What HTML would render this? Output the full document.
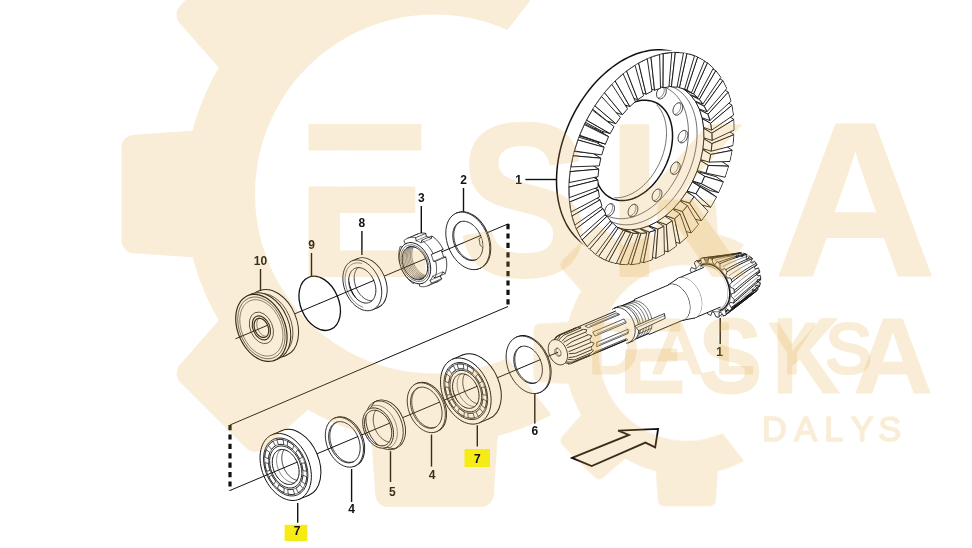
<!DOCTYPE html>
<html><head><meta charset="utf-8"><title>ESKA DALYS</title>
<style>html,body{margin:0;padding:0;background:#fff}svg{display:block}</style></head>
<body><svg width="972" height="548" viewBox="0 0 972 548">
<rect width="972" height="548" fill="#fff"/>
<defs><clipPath id="ecut"><path d="M0 0H1000V600H0Z M300 150.4H346V186.4H300Z" clip-rule="evenodd"/></clipPath><g id="logo" fill="#e1a537" stroke="#e1a537"><path d="M549.24 -26.42 A248.5 248.5 0 1 0 549.24 414.42 L506.96 359.86 A181 181 0 1 1 506.96 28.14 Z" stroke-width="3" stroke-linejoin="round"/><path d="M382.54 409 L388.17 494 L480.83 494 L486.46 409Z" stroke-width="26" stroke-linejoin="round"/><path d="M245.73 309.29 L189.61 373.37 L255.13 438.89 L319.21 382.77Z" stroke-width="26" stroke-linejoin="round"/><path d="M219.5 142.04 L134.5 147.67 L134.5 240.33 L219.5 245.96Z" stroke-width="26" stroke-linejoin="round"/><path d="M319.21 5.23 L255.13 -50.89 L189.61 14.63 L245.73 78.71Z" stroke-width="26" stroke-linejoin="round"/><path d="M486.46 -21 L480.83 -106 L388.17 -106 L382.54 -21Z" stroke-width="26" stroke-linejoin="round"/><g clip-path="url(#ecut)"><text id="eska" y="276" font-family="'Liberation Sans',Arial,sans-serif" font-weight="bold" font-size="219.7" stroke-width="2" stroke-linejoin="round"><tspan x="295.7" textLength="136.8" lengthAdjust="spacingAndGlyphs">E</tspan><tspan x="457.9" textLength="131.2" lengthAdjust="spacingAndGlyphs">S</tspan><tspan x="607.6" textLength="139.6" lengthAdjust="spacingAndGlyphs">K</tspan><tspan x="774.3" textLength="162.2" lengthAdjust="spacingAndGlyphs">A</tspan></text></g><text id="dalys" x="588 653.8 715 768.8 825.2" y="372.9" font-family="'Liberation Sans',Arial,sans-serif" font-size="70" stroke-width="3.2" stroke-linejoin="round">DALYS</text></g></defs>
<g id="drawing" opacity="0.999"><path d="M508 224 L508 307" stroke="#111" stroke-width="3.2" fill="none" stroke-dasharray="5.2 4.2"/><path d="M230 425 L230 491" stroke="#111" stroke-width="3.2" fill="none" stroke-dasharray="5.2 4.2"/><path d="M508 306.5 L230 425" stroke="#111" stroke-width="1" fill="none" /><path d="M508 223.94 L467.8 240.89" fill="none" stroke="#111" stroke-width="1" stroke-linejoin="round" stroke-linecap="round" /><ellipse cx="468.82" cy="240.46" rx="30" ry="20.25" transform="rotate(67.14 468.82 240.46)" fill="#fff" stroke="#111" stroke-width="0.9" /><path d="M479.45 268.53 L480.47 268.1 L457.17 212.81 L456.15 213.24Z" fill="#fff" stroke="none"/><path d="M479.45 268.53 L480.47 268.1" fill="none" stroke="#111" stroke-width="0.9" stroke-linejoin="round" stroke-linecap="round" /><path d="M456.15 213.24 L457.17 212.81" fill="none" stroke="#111" stroke-width="0.9" stroke-linejoin="round" stroke-linecap="round" /><path d="M479.45 268.53 L481.06 267.73 L482.56 266.71 L483.94 265.5 L485.2 264.09 L486.32 262.5 L487.3 260.74 L488.12 258.83 L488.79 256.77 L489.29 254.59 L489.62 252.31 L489.78 249.93 L489.77 247.49 L489.59 244.99 L489.24 242.46 L488.72 239.91 L488.03 237.38 L487.19 234.87 L486.2 232.41 L485.06 230.02 L483.79 227.71 L482.39 225.5 L480.88 223.42 L479.26 221.47 L477.56 219.67 L475.78 218.04 L473.93 216.59 L472.04 215.33 L470.12 214.27 L468.17 213.41 L466.23 212.77 L464.3 212.35 L462.39 212.16 L460.53 212.19 L458.72 212.44 L456.98 212.92 L455.33 213.62 L453.78 214.53 L452.34 215.64 L451.01 216.95 L449.82 218.45 L448.77 220.13 L447.87 221.97 L447.13 223.96 L446.54 226.07 L446.12 228.31 L445.88 230.64 L445.8 233.06 L445.9 235.53 L446.16 238.05 L446.6 240.59 L447.2 243.13 L447.97 245.65 L448.89 248.14 L449.95 250.57 L451.16 252.92 L452.5 255.18 L453.95 257.33 L455.52 259.35 L457.18 261.22 L458.92 262.94 L460.74 264.48 L462.61 265.84 L464.52 267 L466.45 267.96 L468.4 268.71 L470.34 269.24 L472.26 269.54 L474.15 269.63 L475.98 269.48 L477.76 269.12 L479.45 268.53Z M475.76 259.78 L476.86 259.23 L477.88 258.54 L478.83 257.7 L479.69 256.74 L480.46 255.66 L481.12 254.45 L481.69 253.15 L482.14 251.74 L482.48 250.25 L482.71 248.69 L482.82 247.07 L482.81 245.4 L482.69 243.69 L482.45 241.96 L482.09 240.22 L481.63 238.49 L481.05 236.78 L480.37 235.1 L479.59 233.46 L478.72 231.88 L477.77 230.37 L476.74 228.95 L475.63 227.62 L474.47 226.39 L473.25 225.28 L471.99 224.28 L470.7 223.42 L469.38 222.7 L468.06 222.11 L466.73 221.68 L465.41 221.39 L464.1 221.26 L462.83 221.28 L461.6 221.45 L460.41 221.78 L459.28 222.25 L458.22 222.87 L457.23 223.64 L456.33 224.53 L455.52 225.56 L454.8 226.7 L454.18 227.96 L453.67 229.32 L453.27 230.77 L452.99 232.29 L452.82 233.89 L452.77 235.54 L452.83 237.23 L453.02 238.95 L453.31 240.68 L453.73 242.42 L454.25 244.14 L454.88 245.84 L455.61 247.5 L456.43 249.11 L457.34 250.65 L458.34 252.12 L459.41 253.5 L460.54 254.78 L461.74 255.96 L462.97 257.01 L464.25 257.94 L465.56 258.73 L466.88 259.39 L468.21 259.9 L469.54 260.26 L470.85 260.47 L472.14 260.53 L473.39 260.43 L474.6 260.18 L475.76 259.78Z" fill="#fff" fill-rule="evenodd" stroke="#111" stroke-width="0.9"/><path d="M460.35 221.8 L459.41 222.33 L458.52 222.98 L457.69 223.74 L456.93 224.6 L456.25 225.56 L455.64 226.61 L455.11 227.74 L454.67 228.96 L454.32 230.24 L454.05 231.59 L453.88 232.99 L453.79 234.44 L453.8 235.92 L453.91 237.43 L454.1 238.96 L454.39 240.5 L454.76 242.04 L455.22 243.57 L455.77 245.09 L456.39 246.57 L457.09 248.01 L457.87 249.41 L458.71 250.75 L459.61 252.03 L460.57 253.24 L461.58 254.37 L462.64 255.42 L463.73 256.37 L464.86 257.22 L466.01 257.97 L467.17 258.62 L468.35 259.15 L469.53 259.56 L470.7 259.86 L471.87 260.04 L473.01 260.1 L474.13 260.03 L475.22 259.85 L476.27 259.55" fill="none" stroke="#111" stroke-width="0.8" stroke-linejoin="round" stroke-linecap="round" /><path d="M482.81 247.32 L479.89 244.74 L479.82 243.55 L479.69 242.35 L479.48 241.14 L479.2 239.93 L478.86 238.72 L481.2 237.18" fill="#fff" stroke="#111" stroke-width="0.8"/><path d="M480.55 235.51 L414.9 263.18" fill="none" stroke="#111" stroke-width="1" stroke-linejoin="round" stroke-linecap="round" /><path d="M437.82 281.52 L438.24 281.34 L438.65 281.13 L439.05 280.92 L439.44 280.68 L439.83 280.43 L440.21 280.17 L440.58 279.89 L440.94 279.59 L441.29 279.28 L441.63 278.96 L440.21 276.03 L440.49 275.72 L440.77 275.4 L441.03 275.06 L441.29 274.72 L441.54 274.36 L441.78 273.99 L442 273.61 L442.22 273.22 L442.43 272.82 L442.63 272.41 L442.82 271.98 L445.15 273.51 L445.34 273 L445.52 272.49 L445.69 271.97 L445.84 271.43 L445.99 270.89 L446.12 270.34 L446.23 269.77 L446.34 269.2 L446.43 268.63 L446.51 268.04 L446.58 267.45 L446.63 266.85 L446.67 266.25 L446.7 265.64 L446.72 265.02 L446.72 264.4 L446.71 263.78 L446.69 263.15 L446.65 262.51 L446.6 261.88 L446.54 261.24 L446.46 260.59 L446.37 259.95 L446.27 259.31 L446.16 258.66 L446.03 258.01 L445.9 257.37 L443.52 256.85 L443.38 256.28 L443.22 255.72 L443.06 255.15 L442.88 254.59 L442.7 254.03 L442.5 253.47 L442.3 252.92 L442.08 252.37 L441.86 251.82 L441.62 251.28 L441.38 250.74 L443.01 249.14 L442.71 248.53 L442.4 247.94 L442.08 247.35 L441.75 246.76 L441.41 246.19 L441.07 245.62 L440.71 245.06 L440.34 244.51 L439.97 243.97 L439.58 243.43 L439.19 242.91 L438.79 242.4 L438.39 241.9 L437.97 241.41 L437.55 240.93 L437.12 240.46 L436.69 240 L436.25 239.56 L435.8 239.12 L435.35 238.71 L434.89 238.3 L434.43 237.91 L433.97 237.53 L433.5 237.16 L433.02 236.81 L432.54 236.47 L432.06 236.15 L431.11 238.56 L430.68 238.3 L430.26 238.06 L429.83 237.83 L429.39 237.62 L428.96 237.41 L428.53 237.23 L428.1 237.05 L427.66 236.89 L427.23 236.75 L426.79 236.62 L426.36 236.5 L425.66 233.38 L425.17 233.28 L424.68 233.19 L424.2 233.13 L423.71 233.08 L423.23 233.04 L422.75 233.03 L422.27 233.03 L421.8 233.05 L421.34 233.08 L420.87 233.14 L420.41 233.21 L419.96 233.29 L419.51 233.39 L419.07 233.51 L418.63 233.65 L418.2 233.8 L417.78 233.97 L417.36 234.16 L416.95 234.36 L416.55 234.58 L416.16 234.81 L415.77 235.06 L415.39 235.32 L415.02 235.6 L414.66 235.9 L414.31 236.21 L413.97 236.53 L415.39 239.46 L415.11 239.77 L414.83 240.09 L414.57 240.43 L414.31 240.77 L414.06 241.13 L413.83 241.5 L413.6 241.88 L413.38 242.27 L413.17 242.67 L412.97 243.09 L412.78 243.51 L410.45 241.98 L410.26 242.49 L410.08 243 L409.91 243.53 L409.76 244.06 L409.62 244.6 L409.49 245.16 L409.37 245.72 L409.26 246.29 L409.17 246.86 L409.09 247.45 L409.02 248.04 L408.97 248.64 L408.93 249.24 L408.9 249.85 L408.88 250.47 L408.88 251.09 L408.89 251.72 L408.92 252.35 L408.95 252.98 L409 253.62 L409.06 254.26 L409.14 254.9 L409.23 255.54 L409.33 256.19 L409.44 256.83 L409.57 257.48 L409.71 258.13 L412.08 258.65 L412.23 259.21 L412.38 259.78 L412.54 260.34 L412.72 260.9 L412.9 261.46 L413.1 262.02 L413.3 262.57 L413.52 263.12 L413.74 263.67 L413.98 264.21 L414.22 264.75 L412.59 266.35 L412.89 266.96 L413.2 267.56 L413.52 268.15 L413.85 268.73 L414.19 269.31 L414.54 269.87 L414.89 270.43 L415.26 270.98 L415.64 271.53 L416.02 272.06 L416.41 272.58 L416.81 273.09 L417.22 273.6 L417.63 274.09 L418.05 274.57 L418.48 275.03 L418.91 275.49 L419.35 275.94 L419.8 276.37 L420.25 276.79 L420.71 277.19 L421.17 277.59 L421.64 277.96 L422.11 278.33 L422.58 278.68 L423.06 279.02 L423.54 279.34 L424.49 276.93 L424.92 277.19 L425.35 277.43 L425.78 277.66 L426.21 277.88 L426.64 278.08 L427.07 278.26 L427.51 278.44 L427.94 278.6 L428.37 278.74 L428.81 278.88 L429.24 278.99 L429.94 282.12 L430.43 282.22 L430.92 282.3 L431.41 282.37 L431.89 282.41 L432.37 282.45 L432.85 282.46 L433.33 282.46 L433.8 282.44 L434.27 282.41 L434.73 282.35 L435.19 282.29 L435.64 282.2 L436.09 282.1 L436.53 281.98 L436.97 281.84 L437.4 281.69Z" fill="#fff" stroke="#111" stroke-width="0.9" stroke-linejoin="round"/><path d="M427.69 285.79 L437.82 281.52 L417.78 233.97 L407.64 238.24Z" fill="#fff" stroke="none"/><path d="M427.69 285.79 L437.82 281.52" fill="none" stroke="#111" stroke-width="0.9" stroke-linejoin="round" stroke-linecap="round" /><path d="M407.64 238.24 L417.78 233.97" fill="none" stroke="#111" stroke-width="0.9" stroke-linejoin="round" stroke-linecap="round" /><path d="M427.69 285.79 L428.1 285.61 L428.51 285.41 L428.91 285.19 L429.31 284.96 L429.69 284.71 L430.07 284.44 L430.44 284.16 L430.8 283.87 L431.15 283.56 L431.5 283.23 L430.07 280.3 L430.36 279.99 L430.63 279.67 L430.9 279.34 L431.15 278.99 L431.4 278.63 L431.64 278.26 L431.87 277.88 L432.09 277.49 L432.3 277.09 L432.49 276.68 L432.68 276.26 L435.01 277.78 L435.2 277.28 L435.38 276.76 L435.55 276.24 L435.71 275.7 L435.85 275.16 L435.98 274.61 L436.1 274.05 L436.2 273.48 L436.3 272.9 L436.38 272.32 L436.44 271.72 L436.5 271.13 L436.54 270.52 L436.57 269.91 L436.58 269.29 L436.58 268.67 L436.57 268.05 L436.55 267.42 L436.51 266.78 L436.46 266.15 L436.4 265.51 L436.33 264.87 L436.24 264.22 L436.14 263.58 L436.02 262.93 L435.9 262.29 L435.76 261.64 L433.38 261.12 L433.24 260.55 L433.09 259.99 L432.92 259.42 L432.75 258.86 L432.56 258.3 L432.37 257.75 L432.16 257.19 L431.95 256.64 L431.72 256.09 L431.49 255.55 L431.24 255.01 L432.88 253.41 L432.58 252.81 L432.27 252.21 L431.95 251.62 L431.62 251.04 L431.28 250.46 L430.93 249.89 L430.57 249.33 L430.21 248.78 L429.83 248.24 L429.45 247.71 L429.06 247.18 L428.66 246.67 L428.25 246.17 L427.83 245.68 L427.41 245.2 L426.99 244.73 L426.55 244.27 L426.11 243.83 L425.67 243.4 L425.21 242.98 L424.76 242.57 L424.3 242.18 L423.83 241.8 L423.36 241.43 L422.88 241.08 L422.41 240.75 L421.93 240.42 L420.97 242.83 L420.55 242.58 L420.12 242.33 L419.69 242.11 L419.26 241.89 L418.83 241.69 L418.39 241.5 L417.96 241.33 L417.52 241.17 L417.09 241.02 L416.66 240.89 L416.23 240.77 L415.53 237.65 L415.04 237.55 L414.55 237.47 L414.06 237.4 L413.58 237.35 L413.09 237.32 L412.61 237.3 L412.14 237.3 L411.67 237.32 L411.2 237.36 L410.74 237.41 L410.28 237.48 L409.82 237.56 L409.38 237.67 L408.93 237.79 L408.5 237.92 L408.07 238.08 L407.64 238.24 L407.23 238.43 L406.82 238.63 L406.42 238.85 L406.02 239.08 L405.63 239.33 L405.26 239.59 L404.89 239.87 L404.53 240.17 L404.17 240.48 L403.83 240.8 L405.26 243.73 L404.97 244.04 L404.7 244.37 L404.43 244.7 L404.18 245.05 L403.93 245.4 L403.69 245.77 L403.46 246.15 L403.24 246.54 L403.03 246.95 L402.84 247.36 L402.65 247.78 L400.32 246.26 L400.12 246.76 L399.95 247.27 L399.78 247.8 L399.62 248.33 L399.48 248.88 L399.35 249.43 L399.23 249.99 L399.13 250.56 L399.03 251.14 L398.95 251.72 L398.89 252.31 L398.83 252.91 L398.79 253.52 L398.76 254.13 L398.75 254.74 L398.75 255.36 L398.76 255.99 L398.78 256.62 L398.82 257.25 L398.87 257.89 L398.93 258.53 L399 259.17 L399.09 259.81 L399.19 260.46 L399.31 261.1 L399.43 261.75 L399.57 262.4 L401.95 262.92 L402.09 263.48 L402.24 264.05 L402.41 264.61 L402.58 265.17 L402.77 265.73 L402.96 266.29 L403.17 266.85 L403.38 267.4 L403.61 267.94 L403.84 268.49 L404.09 269.03 L402.45 270.63 L402.75 271.23 L403.06 271.83 L403.38 272.42 L403.71 273 L404.05 273.58 L404.4 274.15 L404.76 274.71 L405.12 275.26 L405.5 275.8 L405.88 276.33 L406.27 276.85 L406.67 277.37 L407.08 277.87 L407.49 278.36 L407.92 278.84 L408.34 279.31 L408.78 279.76 L409.22 280.21 L409.66 280.64 L410.12 281.06 L410.57 281.46 L411.03 281.86 L411.5 282.24 L411.97 282.6 L412.44 282.95 L412.92 283.29 L413.4 283.61 L414.36 281.2 L414.78 281.46 L415.21 281.7 L415.64 281.93 L416.07 282.15 L416.5 282.35 L416.94 282.54 L417.37 282.71 L417.8 282.87 L418.24 283.02 L418.67 283.15 L419.1 283.26 L419.8 286.39 L420.29 286.49 L420.78 286.57 L421.27 286.64 L421.75 286.69 L422.24 286.72 L422.71 286.73 L423.19 286.73 L423.66 286.71 L424.13 286.68 L424.59 286.63 L425.05 286.56 L425.5 286.47 L425.95 286.37 L426.4 286.25 L426.83 286.11 L427.26 285.96Z" fill="#fff" stroke="#111" stroke-width="0.8" stroke-linejoin="round"/><path d="M431.72 283.01 L441.86 278.73" fill="none" stroke="#111" stroke-width="0.7" stroke-linejoin="round" stroke-linecap="round" /><path d="M429.98 280.4 L440.11 276.13" fill="none" stroke="#111" stroke-width="0.5" stroke-linejoin="round" stroke-linecap="round" /><path d="M434.95 277.95 L445.08 273.67" fill="none" stroke="#111" stroke-width="0.7" stroke-linejoin="round" stroke-linecap="round" /><path d="M432.8 275.97 L442.94 271.7" fill="none" stroke="#111" stroke-width="0.5" stroke-linejoin="round" stroke-linecap="round" /><path d="M435.66 261.21 L445.8 256.93" fill="none" stroke="#111" stroke-width="0.7" stroke-linejoin="round" stroke-linecap="round" /><path d="M433.43 261.31 L443.56 257.03" fill="none" stroke="#111" stroke-width="0.5" stroke-linejoin="round" stroke-linecap="round" /><path d="M432.97 253.61 L443.11 249.34" fill="none" stroke="#111" stroke-width="0.7" stroke-linejoin="round" stroke-linecap="round" /><path d="M431.08 254.65 L441.21 250.38" fill="none" stroke="#111" stroke-width="0.5" stroke-linejoin="round" stroke-linecap="round" /><path d="M421.6 240.22 L431.74 235.95" fill="none" stroke="#111" stroke-width="0.7" stroke-linejoin="round" stroke-linecap="round" /><path d="M421.12 242.92 L431.25 238.65" fill="none" stroke="#111" stroke-width="0.5" stroke-linejoin="round" stroke-linecap="round" /><path d="M415.69 237.68 L425.83 233.41" fill="none" stroke="#111" stroke-width="0.7" stroke-linejoin="round" stroke-linecap="round" /><path d="M415.94 240.7 L426.07 236.43" fill="none" stroke="#111" stroke-width="0.5" stroke-linejoin="round" stroke-linecap="round" /><path d="M423.25 283 L424.4 282.42 L425.47 281.69 L426.47 280.82 L427.37 279.81 L428.17 278.67 L428.87 277.41 L429.46 276.04 L429.94 274.57 L430.3 273.01 L430.54 271.37 L430.65 269.67 L430.65 267.91 L430.52 266.12 L430.26 264.31 L429.89 262.49 L429.4 260.67 L428.8 258.87 L428.09 257.11 L427.27 255.39 L426.36 253.74 L425.35 252.16 L424.27 250.66 L423.11 249.27 L421.89 247.98 L420.62 246.81 L419.3 245.77 L417.94 244.87 L416.56 244.11 L415.17 243.49 L413.77 243.04 L412.39 242.74 L411.02 242.6 L409.69 242.62 L408.39 242.8 L407.15 243.14 L405.97 243.64 L404.85 244.29 L403.82 245.09 L402.87 246.03 L402.02 247.11 L401.26 248.31 L400.62 249.63 L400.08 251.05 L399.67 252.57 L399.37 254.17 L399.19 255.84 L399.13 257.57 L399.2 259.35 L399.39 261.15 L399.71 262.97 L400.14 264.79 L400.69 266.6 L401.35 268.38 L402.11 270.12 L402.98 271.81 L403.93 273.43 L404.98 274.97 L406.1 276.41 L407.29 277.76 L408.54 278.99 L409.84 280.09 L411.18 281.07 L412.55 281.9 L413.93 282.59 L415.33 283.12 L416.72 283.5 L418.1 283.72 L419.45 283.78 L420.77 283.68 L422.04 283.42 L423.25 283Z M421.62 279.13 L422.54 278.66 L423.41 278.08 L424.21 277.38 L424.93 276.56 L425.58 275.65 L426.14 274.63 L426.62 273.53 L427 272.34 L427.29 271.09 L427.48 269.77 L427.58 268.4 L427.57 266.99 L427.47 265.55 L427.26 264.09 L426.96 262.62 L426.57 261.16 L426.08 259.72 L425.51 258.3 L424.85 256.92 L424.12 255.58 L423.31 254.31 L422.44 253.11 L421.51 251.99 L420.53 250.95 L419.5 250.01 L418.44 249.17 L417.35 248.44 L416.24 247.83 L415.12 247.34 L413.99 246.97 L412.88 246.73 L411.78 246.62 L410.71 246.64 L409.66 246.78 L408.66 247.06 L407.71 247.46 L406.82 247.98 L405.98 248.63 L405.22 249.38 L404.53 250.25 L403.93 251.21 L403.41 252.27 L402.98 253.42 L402.64 254.64 L402.4 255.93 L402.26 257.28 L402.21 258.67 L402.27 260.1 L402.42 261.55 L402.68 263.01 L403.02 264.48 L403.46 265.93 L403.99 267.37 L404.61 268.77 L405.3 270.12 L406.08 271.43 L406.92 272.67 L407.82 273.83 L408.78 274.91 L409.78 275.9 L410.83 276.79 L411.91 277.57 L413.01 278.24 L414.12 278.8 L415.25 279.23 L416.36 279.53 L417.47 279.71 L418.56 279.76 L419.62 279.67 L420.64 279.46 L421.62 279.13Z" fill="#fff" fill-rule="evenodd" stroke="#111" stroke-width="1"/><ellipse cx="414.9" cy="263.18" rx="19.3" ry="13.03" transform="rotate(67.14 414.9 263.18)" fill="none" stroke="#111" stroke-width="0.5" /><path d="M408.87 246.99 L408.1 247.46 L407.37 248.03 L406.7 248.68 L406.09 249.41 L405.53 250.23 L405.04 251.11 L404.62 252.07 L404.26 253.09 L403.98 254.17 L403.77 255.29 L403.64 256.46 L403.58 257.67 L403.59 258.91 L403.69 260.17 L403.85 261.44 L404.09 262.72 L404.41 264 L404.79 265.27 L405.25 266.53 L405.77 267.76 L406.35 268.96 L406.99 270.12 L407.69 271.24 L408.43 272.31 L409.23 273.32 L410.07 274.26 L410.94 275.14 L411.84 275.94 L412.78 276.66 L413.73 277.3 L414.7 277.85 L415.67 278.31 L416.65 278.67 L417.63 278.94 L418.6 279.11 L419.56 279.18 L420.49 279.16 L421.41 279.03 L422.29 278.81" fill="none" stroke="#111" stroke-width="0.5" stroke-linejoin="round" stroke-linecap="round" /><path d="M409.59 246.8 L408.89 247.32 L408.23 247.92 L407.63 248.61 L407.08 249.36 L406.58 250.19 L406.15 251.08 L405.78 252.03 L405.48 253.03 L405.24 254.09 L405.07 255.18 L404.97 256.32 L404.93 257.49 L404.97 258.68 L405.08 259.89 L405.25 261.11 L405.5 262.34 L405.81 263.56 L406.18 264.78 L406.62 265.98 L407.12 267.16 L407.67 268.31 L408.28 269.43 L408.94 270.51 L409.65 271.54 L410.4 272.52 L411.19 273.44 L412.02 274.3 L412.88 275.09 L413.76 275.81 L414.67 276.45 L415.59 277.02 L416.52 277.5 L417.46 277.9 L418.4 278.21 L419.33 278.44 L420.26 278.57 L421.17 278.61 L422.06 278.56 L422.93 278.42" fill="none" stroke="#111" stroke-width="0.5" stroke-linejoin="round" stroke-linecap="round" /><path d="M410.34 246.67 L409.71 247.24 L409.12 247.87 L408.58 248.58 L408.09 249.35 L407.66 250.18 L407.28 251.06 L406.96 252 L406.71 252.99 L406.51 254.02 L406.38 255.08 L406.3 256.18 L406.3 257.31 L406.35 258.45 L406.47 259.61 L406.66 260.78 L406.9 261.95 L407.2 263.12 L407.57 264.29 L407.99 265.43 L408.46 266.56 L408.99 267.66 L409.57 268.73 L410.19 269.77 L410.86 270.76 L411.57 271.71 L412.32 272.61 L413.1 273.45 L413.91 274.23 L414.75 274.94 L415.6 275.59 L416.48 276.17 L417.36 276.67 L418.25 277.1 L419.15 277.45 L420.05 277.72 L420.94 277.91 L421.82 278.01 L422.69 278.04 L423.54 277.98" fill="none" stroke="#111" stroke-width="0.5" stroke-linejoin="round" stroke-linecap="round" /><path d="M411.12 246.61 L410.55 247.21 L410.03 247.87 L409.56 248.6 L409.13 249.37 L408.75 250.2 L408.43 251.08 L408.16 252 L407.95 252.97 L407.8 253.97 L407.7 255 L407.65 256.05 L407.67 257.13 L407.74 258.23 L407.87 259.34 L408.06 260.45 L408.31 261.57 L408.6 262.69 L408.95 263.79 L409.36 264.89 L409.81 265.96 L410.31 267.01 L410.86 268.04 L411.45 269.03 L412.08 269.98 L412.75 270.9 L413.45 271.77 L414.18 272.58 L414.94 273.35 L415.73 274.06 L416.54 274.71 L417.36 275.29 L418.2 275.81 L419.05 276.26 L419.9 276.65 L420.76 276.96 L421.61 277.2 L422.46 277.36 L423.3 277.45 L424.12 277.46" fill="none" stroke="#111" stroke-width="0.5" stroke-linejoin="round" stroke-linecap="round" /><path d="M411.92 246.63 L411.43 247.25 L410.97 247.93 L410.56 248.66 L410.19 249.44 L409.87 250.26 L409.6 251.13 L409.38 252.03 L409.21 252.97 L409.1 253.93 L409.03 254.92 L409.01 255.94 L409.05 256.97 L409.14 258.02 L409.28 259.07 L409.47 260.13 L409.71 261.19 L410 262.25 L410.34 263.3 L410.73 264.34 L411.16 265.36 L411.63 266.36 L412.15 267.34 L412.7 268.28 L413.29 269.2 L413.92 270.08 L414.58 270.91 L415.26 271.71 L415.98 272.46 L416.71 273.15 L417.47 273.8 L418.24 274.39 L419.03 274.92 L419.83 275.39 L420.64 275.8 L421.45 276.15 L422.26 276.43 L423.07 276.65 L423.88 276.8 L424.67 276.88" fill="none" stroke="#111" stroke-width="0.5" stroke-linejoin="round" stroke-linecap="round" /><path d="M412.76 246.71 L412.33 247.36 L411.94 248.05 L411.59 248.78 L411.28 249.55 L411.02 250.36 L410.8 251.21 L410.62 252.08 L410.49 252.99 L410.41 253.92 L410.37 254.87 L410.38 255.84 L410.44 256.82 L410.54 257.81 L410.69 258.81 L410.89 259.82 L411.12 260.82 L411.41 261.82 L411.73 262.81 L412.1 263.8 L412.51 264.76 L412.95 265.71 L413.44 266.63 L413.95 267.54 L414.51 268.41 L415.09 269.25 L415.7 270.05 L416.34 270.82 L417.01 271.55 L417.69 272.23 L418.4 272.87 L419.12 273.46 L419.86 274 L420.61 274.48 L421.37 274.91 L422.13 275.29 L422.9 275.61 L423.67 275.87 L424.44 276.07 L425.2 276.22" fill="none" stroke="#111" stroke-width="0.5" stroke-linejoin="round" stroke-linecap="round" /><path d="M413.63 246.88 L413.27 247.53 L412.94 248.23 L412.65 248.95 L412.4 249.71 L412.19 250.51 L412.02 251.33 L411.88 252.17 L411.79 253.04 L411.74 253.93 L411.73 254.83 L411.77 255.75 L411.84 256.68 L411.95 257.62 L412.11 258.56 L412.3 259.51 L412.54 260.45 L412.81 261.39 L413.12 262.33 L413.47 263.25 L413.85 264.16 L414.27 265.05 L414.72 265.93 L415.2 266.78 L415.72 267.61 L416.26 268.41 L416.82 269.18 L417.42 269.91 L418.03 270.62 L418.67 271.28 L419.32 271.91 L419.99 272.49 L420.68 273.03 L421.37 273.53 L422.08 273.98 L422.8 274.38 L423.52 274.73 L424.24 275.03 L424.96 275.28 L425.69 275.48" fill="none" stroke="#111" stroke-width="0.5" stroke-linejoin="round" stroke-linecap="round" /><path d="M425.66 258.65 L362.3 285.35" fill="none" stroke="#111" stroke-width="1" stroke-linejoin="round" stroke-linecap="round" /><ellipse cx="367.74" cy="283.06" rx="26.5" ry="17.89" transform="rotate(67.14 367.74 283.06)" fill="#fff" stroke="#111" stroke-width="0.9" /><path d="M372.59 309.77 L378.03 307.48 L357.45 258.64 L352.01 260.94Z" fill="#fff" stroke="none"/><path d="M372.59 309.77 L378.03 307.48" fill="none" stroke="#111" stroke-width="0.9" stroke-linejoin="round" stroke-linecap="round" /><path d="M352.01 260.94 L357.45 258.64" fill="none" stroke="#111" stroke-width="0.9" stroke-linejoin="round" stroke-linecap="round" /><path d="M372.59 309.77 L374.01 309.06 L375.33 308.17 L376.56 307.1 L377.67 305.85 L378.66 304.45 L379.52 302.89 L380.25 301.2 L380.84 299.39 L381.28 297.46 L381.57 295.44 L381.72 293.34 L381.71 291.18 L381.55 288.98 L381.24 286.74 L380.78 284.5 L380.17 282.26 L379.43 280.04 L378.55 277.87 L377.55 275.75 L376.42 273.71 L375.19 271.77 L373.85 269.92 L372.42 268.2 L370.92 266.61 L369.35 265.17 L367.72 263.89 L366.05 262.78 L364.35 261.84 L362.63 261.09 L360.91 260.52 L359.2 260.15 L357.52 259.98 L355.88 260.01 L354.28 260.23 L352.75 260.65 L351.29 261.27 L349.92 262.07 L348.64 263.05 L347.47 264.21 L346.42 265.54 L345.49 267.02 L344.7 268.64 L344.04 270.4 L343.52 272.27 L343.15 274.25 L342.93 276.31 L342.87 278.44 L342.95 280.62 L343.19 282.85 L343.57 285.09 L344.11 287.33 L344.78 289.56 L345.59 291.76 L346.54 293.91 L347.6 295.99 L348.78 297.98 L350.07 299.88 L351.45 301.66 L352.92 303.32 L354.46 304.83 L356.06 306.2 L357.71 307.4 L359.4 308.42 L361.11 309.27 L362.83 309.93 L364.54 310.4 L366.24 310.67 L367.91 310.74 L369.53 310.62 L371.1 310.29 L372.59 309.77Z M369.49 302.4 L370.47 301.91 L371.4 301.28 L372.25 300.53 L373.03 299.66 L373.72 298.68 L374.32 297.6 L374.83 296.42 L375.24 295.15 L375.55 293.81 L375.76 292.4 L375.86 290.93 L375.85 289.42 L375.74 287.88 L375.52 286.32 L375.2 284.76 L374.78 283.19 L374.26 281.65 L373.65 280.13 L372.94 278.65 L372.16 277.23 L371.3 275.87 L370.36 274.58 L369.37 273.38 L368.32 272.27 L367.22 271.27 L366.08 270.37 L364.92 269.59 L363.73 268.94 L362.53 268.41 L361.33 268.02 L360.14 267.76 L358.96 267.64 L357.81 267.66 L356.7 267.82 L355.63 268.11 L354.61 268.54 L353.65 269.1 L352.76 269.79 L351.95 270.6 L351.21 271.52 L350.57 272.56 L350.01 273.69 L349.55 274.91 L349.19 276.22 L348.93 277.6 L348.78 279.04 L348.73 280.53 L348.79 282.05 L348.96 283.6 L349.23 285.17 L349.6 286.74 L350.07 288.29 L350.64 289.83 L351.29 291.32 L352.04 292.78 L352.86 294.17 L353.76 295.49 L354.73 296.74 L355.75 297.9 L356.83 298.95 L357.95 299.9 L359.1 300.74 L360.28 301.46 L361.47 302.05 L362.67 302.51 L363.87 302.84 L365.05 303.03 L366.21 303.08 L367.35 302.99 L368.44 302.76 L369.49 302.4Z" fill="#fff" fill-rule="evenodd" stroke="#111" stroke-width="0.9"/><path d="M358.04 267.64 L357.41 268.28 L356.84 268.98 L356.31 269.75 L355.84 270.58 L355.42 271.46 L355.06 272.4 L354.76 273.4 L354.52 274.43 L354.34 275.51 L354.23 276.62 L354.18 277.76 L354.19 278.93 L354.26 280.12 L354.4 281.32 L354.6 282.53 L354.86 283.74 L355.18 284.94 L355.56 286.14 L355.99 287.33 L356.48 288.49 L357.03 289.63 L357.62 290.74 L358.26 291.81 L358.95 292.84 L359.67 293.83 L360.44 294.77 L361.23 295.65 L362.06 296.47 L362.91 297.23 L363.79 297.92 L364.69 298.55 L365.6 299.1 L366.52 299.58 L367.44 299.98 L368.37 300.3 L369.29 300.54 L370.21 300.7 L371.11 300.78 L372 300.77" fill="none" stroke="#111" stroke-width="0.8" stroke-linejoin="round" stroke-linecap="round" /><path d="M361.7 263.52 L360.32 263.15 L358.95 262.92 L357.6 262.84 L356.28 262.9 L355 263.11 L353.77 263.47 L352.59 263.97 L351.48 264.6 L350.43 265.37 L349.47 266.27 L348.58 267.29 L347.79 268.43 L347.09 269.68 L346.48 271.03 L345.99 272.48 L345.59 274 L345.31 275.61 L345.13 277.27 L345.07 278.99 L345.12 280.75 L345.27 282.53 L345.54 284.34 L345.92 286.15 L346.41 287.96 L347 289.75 L347.68 291.52 L348.46 293.24 L349.34 294.91 L350.29 296.52 L351.33 298.06 L352.43 299.51 L353.6 300.87 L354.82 302.14 L356.1 303.29 L357.41 304.33 L358.76 305.24 L360.13 306.03 L361.51 306.68 L362.9 307.19" fill="none" stroke="#111" stroke-width="0.5" stroke-linejoin="round" stroke-linecap="round" /><path d="M373.81 280.5 L319.7 303.31" fill="none" stroke="#111" stroke-width="1" stroke-linejoin="round" stroke-linecap="round" /><ellipse cx="319.7" cy="303.31" rx="28.3" ry="19.1" transform="rotate(67.14 319.7 303.31)" fill="none" stroke="#111" stroke-width="1.3" /><path d="M319.7 303.31 L261.4 327.88" fill="none" stroke="#111" stroke-width="1" stroke-linejoin="round" stroke-linecap="round" /><ellipse cx="272.92" cy="323.03" rx="35" ry="23.62" transform="rotate(67.14 272.92 323.03)" fill="#fff" stroke="#111" stroke-width="1" /><path d="M282.83 356.83 L286.51 355.28 L259.32 290.78 L255.64 292.33Z" fill="#fff" stroke="none"/><path d="M282.83 356.83 L286.51 355.28" fill="none" stroke="#111" stroke-width="1" stroke-linejoin="round" stroke-linecap="round" /><path d="M255.64 292.33 L259.32 290.78" fill="none" stroke="#111" stroke-width="1" stroke-linejoin="round" stroke-linecap="round" /><ellipse cx="269.23" cy="324.58" rx="32.3" ry="21.8" transform="rotate(67.14 269.23 324.58)" fill="#fff" stroke="#111" stroke-width="0.7" /><path d="M277.63 356.09 L281.78 354.35 L256.69 294.82 L252.54 296.57Z" fill="#fff" stroke="none"/><path d="M277.63 356.09 L281.78 354.35" fill="none" stroke="#111" stroke-width="0.7" stroke-linejoin="round" stroke-linecap="round" /><path d="M252.54 296.57 L256.69 294.82" fill="none" stroke="#111" stroke-width="0.7" stroke-linejoin="round" stroke-linecap="round" /><ellipse cx="265.09" cy="326.33" rx="35" ry="23.62" transform="rotate(67.14 265.09 326.33)" fill="#fff" stroke="#111" stroke-width="1" /><path d="M274.99 360.14 L278.68 358.58 L251.49 294.08 L247.81 295.63Z" fill="#fff" stroke="none"/><path d="M274.99 360.14 L278.68 358.58" fill="none" stroke="#111" stroke-width="1" stroke-linejoin="round" stroke-linecap="round" /><path d="M247.81 295.63 L251.49 294.08" fill="none" stroke="#111" stroke-width="1" stroke-linejoin="round" stroke-linecap="round" /><path d="M274.99 360.14 L276.87 359.2 L278.61 358.02 L280.23 356.6 L281.7 354.96 L283.01 353.1 L284.15 351.05 L285.11 348.82 L285.88 346.42 L286.47 343.88 L286.86 341.21 L287.05 338.44 L287.03 335.58 L286.82 332.67 L286.41 329.72 L285.8 326.75 L285.01 323.79 L284.02 320.87 L282.86 318 L281.54 315.2 L280.05 312.51 L278.42 309.94 L276.66 307.5 L274.77 305.23 L272.78 303.13 L270.71 301.23 L268.55 299.54 L266.35 298.06 L264.1 296.83 L261.84 295.83 L259.57 295.09 L257.31 294.6 L255.09 294.37 L252.91 294.4 L250.81 294.7 L248.78 295.26 L246.86 296.07 L245.04 297.13 L243.36 298.43 L241.82 299.96 L240.43 301.71 L239.2 303.67 L238.15 305.81 L237.28 308.13 L236.6 310.6 L236.11 313.21 L235.82 315.93 L235.73 318.75 L235.85 321.64 L236.16 324.57 L236.67 327.53 L237.37 330.5 L238.26 333.44 L239.33 336.34 L240.58 339.18 L241.99 341.93 L243.55 344.56 L245.25 347.07 L247.07 349.42 L249.01 351.61 L251.05 353.61 L253.16 355.41 L255.34 357 L257.57 358.35 L259.83 359.47 L262.1 360.34 L264.36 360.96 L266.61 361.32 L268.81 361.41 L270.95 361.25 L273.02 360.82 L274.99 360.14Z M265.28 337.1 L265.82 336.83 L266.32 336.49 L266.78 336.09 L267.2 335.62 L267.57 335.09 L267.9 334.5 L268.17 333.86 L268.4 333.18 L268.56 332.45 L268.67 331.69 L268.73 330.9 L268.72 330.08 L268.66 329.25 L268.55 328.41 L268.37 327.56 L268.14 326.71 L267.86 325.88 L267.53 325.06 L267.15 324.26 L266.73 323.49 L266.26 322.76 L265.76 322.06 L265.22 321.41 L264.65 320.81 L264.06 320.27 L263.44 319.78 L262.81 319.36 L262.17 319.01 L261.52 318.73 L260.88 318.51 L260.23 318.37 L259.6 318.31 L258.98 318.32 L258.37 318.4 L257.79 318.56 L257.24 318.79 L256.73 319.1 L256.25 319.47 L255.8 319.91 L255.41 320.41 L255.06 320.97 L254.76 321.58 L254.51 322.24 L254.31 322.95 L254.17 323.69 L254.09 324.47 L254.07 325.27 L254.1 326.1 L254.19 326.94 L254.33 327.78 L254.53 328.63 L254.79 329.47 L255.1 330.3 L255.45 331.11 L255.85 331.9 L256.3 332.65 L256.78 333.36 L257.31 334.04 L257.86 334.66 L258.44 335.23 L259.05 335.75 L259.67 336.2 L260.31 336.59 L260.95 336.91 L261.6 337.16 L262.25 337.33 L262.89 337.44 L263.52 337.46 L264.13 337.42 L264.72 337.29 L265.28 337.1Z" fill="#fff" fill-rule="evenodd" stroke="#111" stroke-width="1.2"/><ellipse cx="261.4" cy="327.88" rx="32.3" ry="21.8" transform="rotate(67.14 261.4 327.88)" fill="none" stroke="#111" stroke-width="0.6" /><ellipse cx="261.4" cy="327.88" rx="29.5" ry="19.91" transform="rotate(67.14 261.4 327.88)" fill="none" stroke="#111" stroke-width="0.5" /><ellipse cx="261.4" cy="327.88" rx="16.5" ry="11.14" transform="rotate(67.14 261.4 327.88)" fill="none" stroke="#111" stroke-width="0.7" /><ellipse cx="261.4" cy="327.88" rx="12.5" ry="8.44" transform="rotate(67.14 261.4 327.88)" fill="none" stroke="#111" stroke-width="1.1" /><path d="M259 318.32 L258.65 318.65 L258.33 319.03 L258.04 319.44 L257.77 319.89 L257.54 320.37 L257.34 320.88 L257.17 321.42 L257.03 321.98 L256.93 322.57 L256.87 323.17 L256.83 323.8 L256.84 324.43 L256.88 325.08 L256.95 325.74 L257.05 326.4 L257.2 327.06 L257.37 327.72 L257.58 328.37 L257.81 329.02 L258.08 329.66 L258.38 330.28 L258.7 330.88 L259.05 331.47 L259.43 332.03 L259.83 332.57 L260.25 333.08 L260.68 333.56 L261.14 334.01 L261.61 334.42 L262.09 334.79 L262.58 335.13 L263.07 335.43 L263.58 335.68 L264.08 335.89 L264.59 336.06 L265.09 336.19 L265.59 336.26 L266.09 336.3 L266.57 336.29" fill="none" stroke="#111" stroke-width="0.6" stroke-linejoin="round" stroke-linecap="round" /><path d="M267.62 325.26 L235.8 338.67" fill="none" stroke="#111" stroke-width="1" stroke-linejoin="round" stroke-linecap="round" /><path d="M723.83 315.95 L753.31 293.21 L753.31 293.21 L755.4 292.02 L757.2 290.31 L758.67 288.14 L759.77 285.57 L760.46 282.67 L760.72 279.52 L760.56 276.2 L759.98 272.8 L758.98 269.42 L757.6 266.15 L755.88 263.07 L753.85 260.28 L751.59 257.85 L749.15 255.84 L746.59 254.3 L743.98 253.29 L741.41 252.83 L738.93 252.93 L736.61 253.59 L736.61 253.59 L699.75 258.82Z" fill="#fff" stroke="none"/><path d="M723.83 315.95 L725.81 314.92 L727.63 313.59 L729.28 311.95 L730.72 310.04 L731.95 307.87 L732.95 305.47 L733.71 302.86 L734.23 300.08 L734.49 297.15 L734.49 294.12 L734.24 291 L733.73 287.85 L732.97 284.69 L731.97 281.56 L730.74 278.5 L729.3 275.54 L727.66 272.71 L725.84 270.05 L723.86 267.58 L721.75 265.34 L719.52 263.35 L717.2 261.63 L714.83 260.21 L712.41 259.09 L710 258.29 L707.6 257.82 L705.25 257.69 L702.97 257.89 L700.79 258.43 L698.74 259.29 L696.83 260.47 L695.1 261.96 L693.55 263.74 L692.21 265.78 L691.1 268.07 L690.21 270.58 L689.57 273.28 L689.19 276.14 L689.06 279.12 L689.18 282.2 L689.57 285.34 L690.2 288.5 L691.08 291.65 L692.19 294.75 L693.53 297.76 L695.07 300.66 L696.8 303.41 L698.71 305.98 L700.76 308.34 L702.93 310.45 L705.21 312.31 L707.56 313.89 L709.95 315.16 L712.37 316.12 L714.79 316.76 L717.16 317.06 L719.48 317.02 L721.71 316.65 L723.83 315.95Z" fill="#fff" stroke="none"/><path d="M723.83 315.95 L726.1 314.3 L728.36 312.65 L730.6 311 L732.82 309.35 L735.03 307.69 L737.22 306.04 L739.4 304.39 L741.56 302.74 L743.71 301.09 L745.85 299.44 L747.97 297.8 L750.07 296.16 L752.16 294.52 L754.24 292.89 L756.3 291.26" fill="none" stroke="#111" stroke-width="1" stroke-linejoin="round" stroke-linecap="round" /><path d="M725.3 315.22 L727.53 313.55 L729.74 311.89 L731.93 310.22 L734.11 308.55 L736.28 306.88 L738.43 305.22 L740.56 303.55 L742.68 301.89 L744.78 300.24 L746.88 298.59 L748.95 296.94 L751.02 295.3 L753.07 293.66 L755.1 292.03 L757.12 290.4" fill="none" stroke="#111" stroke-width="0.9" stroke-linejoin="round" stroke-linecap="round" /><path d="M727.86 313.39 L730 311.69 L732.12 310 L734.23 308.31 L736.32 306.63 L738.4 304.95 L740.47 303.27 L742.52 301.6 L744.56 299.94 L746.58 298.28 L748.6 296.63 L750.6 294.99 L752.58 293.35 L754.56 291.72 L756.52 290.1 L758.47 288.49" fill="none" stroke="#111" stroke-width="0.45" stroke-linejoin="round" stroke-linecap="round" /><path d="M729.98 311.09 L732.04 309.38 L734.08 307.68 L736.11 305.99 L738.12 304.3 L740.12 302.63 L742.11 300.96 L744.09 299.29 L746.05 297.64 L748.01 296 L749.95 294.36 L751.88 292.74 L753.8 291.12 L755.71 289.52 L757.6 287.93 L759.49 286.35" fill="none" stroke="#111" stroke-width="1" stroke-linejoin="round" stroke-linecap="round" /><path d="M730.99 309.61 L733.01 307.9 L735 306.21 L736.99 304.52 L738.96 302.84 L740.92 301.17 L742.87 299.51 L744.81 297.86 L746.73 296.22 L748.65 294.59 L750.55 292.97 L752.45 291.36 L754.33 289.77 L756.21 288.18 L758.07 286.61 L759.93 285.05" fill="none" stroke="#111" stroke-width="0.9" stroke-linejoin="round" stroke-linecap="round" /><path d="M732.58 306.45 L734.51 304.76 L736.43 303.09 L738.34 301.42 L740.24 299.77 L742.12 298.12 L744 296.49 L745.87 294.87 L747.73 293.27 L749.58 291.67 L751.42 290.09 L753.25 288.53 L755.07 286.98 L756.89 285.44 L758.7 283.92 L760.5 282.41" fill="none" stroke="#111" stroke-width="0.45" stroke-linejoin="round" stroke-linecap="round" /><path d="M733.68 303.02 L735.54 301.36 L737.39 299.72 L739.23 298.09 L741.06 296.47 L742.88 294.87 L744.7 293.28 L746.5 291.71 L748.3 290.15 L750.1 288.61 L751.88 287.08 L753.66 285.57 L755.43 284.07 L757.2 282.59 L758.96 281.13 L760.72 279.69" fill="none" stroke="#111" stroke-width="1" stroke-linejoin="round" stroke-linecap="round" /><path d="M734.09 300.99 L735.91 299.36 L737.73 297.74 L739.54 296.13 L741.33 294.54 L743.13 292.97 L744.91 291.41 L746.69 289.87 L748.46 288.34 L750.22 286.83 L751.98 285.34 L753.74 283.86 L755.49 282.4 L757.23 280.96 L758.97 279.53 L760.71 278.13" fill="none" stroke="#111" stroke-width="0.9" stroke-linejoin="round" stroke-linecap="round" /><path d="M734.5 296.94 L736.26 295.36 L738.01 293.8 L739.76 292.26 L741.51 290.73 L743.24 289.22 L744.98 287.73 L746.71 286.25 L748.43 284.79 L750.15 283.36 L751.87 281.93 L753.58 280.53 L755.3 279.15 L757.01 277.78 L758.71 276.44 L760.42 275.11" fill="none" stroke="#111" stroke-width="0.45" stroke-linejoin="round" stroke-linecap="round" /><path d="M734.42 292.84 L736.13 291.33 L737.83 289.84 L739.54 288.37 L741.24 286.91 L742.94 285.47 L744.63 284.06 L746.32 282.66 L748.01 281.28 L749.7 279.92 L751.39 278.58 L753.08 277.26 L754.76 275.96 L756.45 274.68 L758.14 273.42 L759.82 272.18" fill="none" stroke="#111" stroke-width="1" stroke-linejoin="round" stroke-linecap="round" /><path d="M734.18 290.53 L735.86 289.07 L737.55 287.62 L739.23 286.19 L740.91 284.78 L742.59 283.38 L744.27 282.01 L745.94 280.66 L747.62 279.33 L749.3 278.02 L750.97 276.72 L752.65 275.45 L754.32 274.2 L756 272.97 L757.68 271.76 L759.36 270.57" fill="none" stroke="#111" stroke-width="0.9" stroke-linejoin="round" stroke-linecap="round" /><path d="M733.34 286.13 L735 284.75 L736.65 283.39 L738.3 282.06 L739.96 280.74 L741.61 279.44 L743.26 278.16 L744.92 276.9 L746.58 275.66 L748.24 274.45 L749.9 273.25 L751.56 272.08 L753.23 270.92 L754.9 269.79 L756.58 268.67 L758.26 267.58" fill="none" stroke="#111" stroke-width="0.45" stroke-linejoin="round" stroke-linecap="round" /><path d="M732.1 281.93 L733.73 280.64 L735.36 279.38 L737 278.13 L738.64 276.91 L740.28 275.71 L741.92 274.53 L743.57 273.37 L745.22 272.23 L746.87 271.11 L748.53 270.01 L750.2 268.93 L751.87 267.88 L753.55 266.84 L755.23 265.83 L756.92 264.83" fill="none" stroke="#111" stroke-width="1" stroke-linejoin="round" stroke-linecap="round" /><path d="M731.24 279.65 L732.86 278.42 L734.49 277.21 L736.12 276.02 L737.75 274.86 L739.39 273.71 L741.03 272.58 L742.68 271.48 L744.33 270.4 L745.99 269.33 L747.65 268.29 L749.32 267.27 L751 266.27 L752.68 265.29 L754.38 264.33 L756.07 263.39" fill="none" stroke="#111" stroke-width="0.9" stroke-linejoin="round" stroke-linecap="round" /><path d="M729.28 275.5 L730.9 274.38 L732.53 273.28 L734.16 272.2 L735.8 271.14 L737.44 270.1 L739.09 269.08 L740.75 268.09 L742.41 267.11 L744.09 266.15 L745.77 265.22 L747.45 264.3 L749.15 263.41 L750.86 262.53 L752.57 261.67 L754.3 260.84" fill="none" stroke="#111" stroke-width="0.45" stroke-linejoin="round" stroke-linecap="round" /><path d="M727.04 271.75 L728.67 270.74 L730.3 269.74 L731.95 268.77 L733.6 267.82 L735.26 266.89 L736.93 265.98 L738.61 265.08 L740.3 264.21 L742 263.36 L743.7 262.53 L745.42 261.71 L747.15 260.92 L748.89 260.14 L750.64 259.38 L752.4 258.64" fill="none" stroke="#111" stroke-width="1" stroke-linejoin="round" stroke-linecap="round" /><path d="M725.67 269.82 L727.31 268.86 L728.96 267.93 L730.61 267.02 L732.28 266.13 L733.95 265.25 L735.64 264.4 L737.33 263.57 L739.04 262.75 L740.75 261.96 L742.48 261.18 L744.22 260.42 L745.97 259.68 L747.73 258.96 L749.5 258.25 L751.28 257.56" fill="none" stroke="#111" stroke-width="0.9" stroke-linejoin="round" stroke-linecap="round" /><path d="M722.86 266.47 L724.52 265.63 L726.2 264.81 L727.89 264.01 L729.59 263.23 L731.3 262.47 L733.02 261.72 L734.76 261 L736.5 260.29 L738.26 259.59 L740.03 258.92 L741.82 258.26 L743.61 257.62 L745.42 256.99 L747.24 256.38 L749.08 255.79" fill="none" stroke="#111" stroke-width="0.45" stroke-linejoin="round" stroke-linecap="round" /><path d="M719.92 263.68 L721.63 262.95 L723.34 262.24 L725.07 261.55 L726.82 260.87 L728.57 260.21 L730.34 259.56 L732.12 258.93 L733.92 258.32 L735.73 257.73 L737.55 257.14 L739.39 256.58 L741.24 256.02 L743.1 255.49 L744.98 254.96 L746.87 254.45" fill="none" stroke="#111" stroke-width="1" stroke-linejoin="round" stroke-linecap="round" /><path d="M718.23 262.35 L719.96 261.68 L721.7 261.02 L723.46 260.38 L725.23 259.76 L727.02 259.16 L728.82 258.56 L730.63 257.99 L732.45 257.43 L734.29 256.88 L736.15 256.35 L738.02 255.83 L739.9 255.32 L741.8 254.83 L743.71 254.34 L745.64 253.87" fill="none" stroke="#111" stroke-width="0.9" stroke-linejoin="round" stroke-linecap="round" /><path d="M714.94 260.26 L716.72 259.7 L718.53 259.14 L720.34 258.61 L722.17 258.08 L724.02 257.57 L725.88 257.07 L727.75 256.59 L729.64 256.12 L731.55 255.66 L733.47 255.21 L735.41 254.77 L737.36 254.34 L739.32 253.92 L741.31 253.52 L743.3 253.12" fill="none" stroke="#111" stroke-width="0.45" stroke-linejoin="round" stroke-linecap="round" /><path d="M711.7 258.82 L713.55 258.34 L715.42 257.88 L717.3 257.43 L719.2 256.99 L721.11 256.57 L723.04 256.15 L724.98 255.74 L726.94 255.35 L728.91 254.96 L730.9 254.58 L732.91 254.22 L734.93 253.85 L736.97 253.5 L739.02 253.15 L741.09 252.81" fill="none" stroke="#111" stroke-width="1" stroke-linejoin="round" stroke-linecap="round" /><path d="M709.92 258.27 L711.81 257.84 L713.71 257.43 L715.63 257.02 L717.57 256.63 L719.52 256.24 L721.49 255.86 L723.47 255.5 L725.47 255.14 L727.48 254.79 L729.51 254.45 L731.56 254.11 L733.62 253.78 L735.7 253.46 L737.79 253.14 L739.9 252.82" fill="none" stroke="#111" stroke-width="0.9" stroke-linejoin="round" stroke-linecap="round" /><path d="M706.59 257.72 L708.56 257.38 L710.54 257.04 L712.53 256.71 L714.55 256.39 L716.58 256.07 L718.62 255.76 L720.69 255.46 L722.76 255.16 L724.86 254.87 L726.97 254.58 L729.09 254.3 L731.23 254.02 L733.39 253.74 L735.56 253.46 L737.75 253.19" fill="none" stroke="#111" stroke-width="0.45" stroke-linejoin="round" stroke-linecap="round" /><path d="M703.5 257.81 L705.54 257.53 L707.6 257.26 L709.68 256.99 L711.77 256.72 L713.88 256.46 L716 256.2 L718.15 255.95 L720.3 255.69 L722.47 255.44 L724.66 255.2 L726.87 254.95 L729.08 254.7 L731.32 254.46 L733.57 254.21 L735.83 253.96" fill="none" stroke="#111" stroke-width="1" stroke-linejoin="round" stroke-linecap="round" /><path d="M701.86 258.12 L703.95 257.87 L706.06 257.62 L708.18 257.38 L710.31 257.14 L712.47 256.9 L714.64 256.67 L716.82 256.43 L719.02 256.2 L721.24 255.97 L723.47 255.73 L725.72 255.5 L727.98 255.27 L730.25 255.03 L732.54 254.79 L734.85 254.55" fill="none" stroke="#111" stroke-width="0.9" stroke-linejoin="round" stroke-linecap="round" /><path d="M698.95 259.19 L701.12 258.98 L703.32 258.78 L705.52 258.58 L707.75 258.37 L709.98 258.17 L712.24 257.97 L714.51 257.76 L716.79 257.55 L719.09 257.34 L721.4 257.12 L723.73 256.91 L726.07 256.68 L728.42 256.46 L730.79 256.23 L733.17 255.99" fill="none" stroke="#111" stroke-width="0.45" stroke-linejoin="round" stroke-linecap="round" /><path d="M696.41 260.8 L698.67 260.62 L700.95 260.45 L703.24 260.27 L705.54 260.08 L707.86 259.9 L710.2 259.71 L712.54 259.51" fill="none" stroke="#111" stroke-width="1" stroke-linejoin="round" stroke-linecap="round" /><path d="M695.14 261.92 L697.45 261.75 L699.77 261.58" fill="none" stroke="#111" stroke-width="0.9" stroke-linejoin="round" stroke-linecap="round" /><path d="M744.79 297.07 L747.14 295.54 L749.47 294" fill="none" stroke="#111" stroke-width="0.45" stroke-linejoin="round" stroke-linecap="round" /><path d="M725.88 310.92 L728.29 309.39 L730.69 307.85 L733.08 306.31 L735.44 304.75 L737.8 303.2 L740.13 301.64 L742.45 300.07 L744.76 298.5 L747.05 296.92 L749.32 295.34 L751.58 293.76" fill="none" stroke="#111" stroke-width="1" stroke-linejoin="round" stroke-linecap="round" /><path d="M717.79 317.08 L720.23 315.54 L722.65 314 L725.05 312.45 L727.44 310.89 L729.82 309.33 L732.18 307.76 L734.52 306.18 L736.84 304.6 L739.15 303.02 L741.45 301.43 L743.72 299.84 L745.99 298.25 L748.23 296.65 L750.46 295.05 L752.68 293.45" fill="none" stroke="#111" stroke-width="0.9" stroke-linejoin="round" stroke-linecap="round" /><path d="M720.96 316.82 L723.32 315.21 L725.66 313.61 L727.98 312 L730.29 310.39 L732.58 308.77 L734.85 307.15 L737.11 305.53 L739.35 303.91 L741.58 302.28 L743.79 300.66 L745.99 299.03 L748.17 297.41 L750.34 295.78 L752.49 294.16 L754.63 292.54" fill="none" stroke="#111" stroke-width="0.45" stroke-linejoin="round" stroke-linecap="round" /><path d="M751.58 293.76 L754.19 292.79 L752.13 289.81 L753.18 289.06 L756.3 291.26 L758.18 288.97 L755.35 286.43 L756 285.13 L759.49 286.35 L760.39 283.05 L757.05 281.33 L757.21 279.67 L760.72 279.69 L760.52 275.83 L756.98 275.22 L756.64 273.42 L759.82 272.18 L758.55 268.27 L755.17 268.92 L754.37 267.22 L756.92 264.83 L754.74 261.41 L751.86 263.27 L750.7 261.9 L752.4 258.64 L749.61 256.17 L747.49 259.04 L746.14 258.19 L746.87 254.45 L743.85 253.26 L742.65 256.81 L741.29 256.59 L741.09 252.81 L738.24 253.06 L738 256.87 L736.81 257.31 L735.83 253.96" fill="none" stroke="#111" stroke-width="0.8" stroke-linejoin="round" stroke-linecap="round" /><path d="M723.83 315.95 L726.4 314.54 L725.04 310.03 L726.45 308.71 L729.98 311.09 L731.7 308.36 L729.28 304.35 L730.07 302.29 L733.68 303.02 L734.32 299.35 L731.16 296.39 L731.22 293.85 L734.42 292.84 L733.89 288.73 L730.42 287.2 L729.74 284.55 L732.1 281.93 L730.48 277.92 L727.17 278.04 L725.84 275.63 L727.04 271.75 L724.54 268.39 L721.84 270.15 L720.04 268.29 L719.92 263.68 L716.89 261.42 L715.15 264.58 L713.13 263.54 L711.7 258.82 L708.54 257.96 L708.01 262.09 L706.04 262 L703.5 257.81 L700.63 258.48 L701.38 263.02 L699.72 263.89 L696.41 260.8 L694.23 262.9 L696.15 267.23 L695.03 268.96 L691.4 267.38 L690.2 270.62 L693.04 274.17 L692.61 276.51 L689.14 276.65 L689.09 280.61 L692.46 282.9 L692.77 285.53 L689.95 287.38 L691.04 291.52 L694.49 292.23 L695.51 294.81 L693.7 298.11 L695.79 301.86 L698.86 300.9 L700.44 303.08 L699.89 307.39 L702.71 310.25 L704.97 307.75 L706.91 309.23 L707.7 313.97 L710.85 315.55 L712 311.85 L714.03 312.43 L716.05 316.96 L719.12 317.05 L719.01 312.65 L720.85 312.24Z" fill="#fff" stroke="#111" stroke-width="0.8" stroke-linejoin="round"/><path d="M721.69 310.88 L723.32 310.04 L724.82 308.94 L726.17 307.59 L727.36 306.02 L728.37 304.23 L729.2 302.26 L729.82 300.11 L730.25 297.83 L730.46 295.42 L730.46 292.92 L730.25 290.36 L729.83 287.77 L729.21 285.17 L728.39 282.59 L727.38 280.08 L726.19 277.64 L724.85 275.31 L723.35 273.12 L721.72 271.1 L719.98 269.25 L718.15 267.61 L716.24 266.2 L714.29 265.03 L712.3 264.11 L710.31 263.45 L708.34 263.06 L706.41 262.95 L704.53 263.12 L702.74 263.56 L701.05 264.28 L699.49 265.25 L698.06 266.47 L696.79 267.93 L695.69 269.62 L694.77 271.5 L694.04 273.56 L693.52 275.78 L693.2 278.13 L693.09 280.59 L693.19 283.12 L693.51 285.7 L694.03 288.3 L694.75 290.89 L695.67 293.44 L696.77 295.92 L698.04 298.31 L699.46 300.57 L701.03 302.68 L702.71 304.62 L704.5 306.36 L706.37 307.89 L708.31 309.18 L710.28 310.23 L712.27 311.02 L714.25 311.54 L716.21 311.79 L718.12 311.76 L719.95 311.46 L721.69 310.88Z" fill="#fff" stroke="#111" stroke-width="0.6"/><path d="M719.91 310.34 L721.23 309.88 L722.49 309.26 L723.67 308.48 L724.76 307.55 L725.76 306.48 L726.66 305.26 L727.45 303.92 L728.13 302.46 L728.69 300.88 L729.13 299.21 L729.44 297.46 L729.62 295.63 L729.68 293.74 L729.61 291.81 L729.41 289.84 L729.08 287.86 L728.62 285.87 L728.05 283.9 L727.35 281.95 L726.55 280.04 L725.64 278.18 L724.62 276.39 L723.52 274.68 L722.33 273.05 L721.06 271.54 L719.73 270.14 L718.34 268.86 L716.9 267.71 L715.43 266.71 L713.93 265.86 L712.41 265.16 L710.89 264.63 L709.38 264.26 L707.88 264.05 L706.41 264.01 L704.98 264.15 L703.6 264.45 L702.28 264.91 L701.02 265.54" fill="none" stroke="#111" stroke-width="1.3" stroke-linejoin="round" stroke-linecap="round" /><path d="M718.13 309.79 L719.38 309.36 L720.58 308.77 L721.7 308.03 L722.74 307.14 L723.69 306.12 L724.55 304.97 L725.3 303.69 L725.94 302.3 L726.48 300.8 L726.89 299.21 L727.19 297.55 L727.37 295.81 L727.42 294.01 L727.35 292.17 L727.16 290.31 L726.84 288.42 L726.41 286.53 L725.87 284.65 L725.21 282.8 L724.44 280.98 L723.57 279.21 L722.61 277.51 L721.56 275.88 L720.43 274.34 L719.23 272.9 L717.96 271.57 L716.64 270.35 L715.27 269.26 L713.87 268.31 L712.44 267.5 L711 266.84 L709.55 266.33 L708.11 265.98 L706.69 265.78 L705.29 265.75 L703.93 265.87 L702.62 266.16 L701.36 266.6 L700.17 267.2" fill="none" stroke="#111" stroke-width="0.5" stroke-linejoin="round" stroke-linecap="round" /><path d="M720.14 307.2 L721.51 306.48 L722.78 305.56 L723.92 304.42 L724.92 303.1 L725.77 301.59 L726.47 299.93 L727 298.12 L727.35 296.19 L727.53 294.16 L727.53 292.05 L727.36 289.89 L727 287.71 L726.48 285.52 L725.79 283.35 L724.93 281.22 L723.93 279.17 L722.8 277.21 L721.54 275.36 L720.16 273.65 L718.7 272.1 L717.15 270.72 L715.54 269.52 L713.9 268.53 L712.22 267.76 L710.54 267.2 L708.88 266.88 L707.25 266.79 L705.67 266.93 L704.16 267.3 L702.74 267.9 L701.42 268.72 L700.21 269.75 L699.14 270.99 L698.21 272.4 L697.44 273.99 L696.82 275.73 L696.38 277.6 L696.11 279.58 L696.02 281.65 L696.11 283.79 L696.38 285.97 L696.82 288.16 L697.43 290.34 L698.2 292.49 L699.12 294.58 L700.19 296.59 L701.4 298.5 L702.71 300.28 L704.14 301.91 L705.65 303.38 L707.22 304.67 L708.85 305.76 L710.52 306.65 L712.19 307.31 L713.87 307.75 L715.52 307.96 L717.12 307.94 L718.67 307.68 L720.14 307.2Z" fill="#fff" stroke="none"/><path d="M694.34 318.07 L720.14 307.2 L703.44 267.57 L677.64 278.45Z" fill="#fff" stroke="none"/><path d="M694.34 318.07 L720.14 307.2" fill="none" stroke="#111" stroke-width="0.95" stroke-linejoin="round" stroke-linecap="round" /><path d="M677.64 278.45 L703.44 267.57" fill="none" stroke="#111" stroke-width="0.95" stroke-linejoin="round" stroke-linecap="round" /><path d="M694.34 318.07 L695.73 317.35 L697.02 316.4 L698.17 315.23 L699.18 313.87 L700.04 312.33 L700.73 310.62 L701.25 308.77 L701.59 306.79 L701.74 304.71 L701.71 302.56 L701.5 300.36 L701.11 298.13 L700.53 295.9 L699.79 293.7 L698.89 291.56 L697.83 289.49 L696.64 287.53 L695.32 285.69 L693.89 284 L692.37 282.48 L690.77 281.14 L689.12 280 L687.43 279.08 L685.73 278.38 L684.02 277.91 L682.34 277.68 L680.71 277.7 L679.13 277.95 L677.64 278.45" fill="none" stroke="#111" stroke-width="0.6" stroke-linejoin="round" stroke-linecap="round" /><path d="M694.34 318.07 L695.71 317.36 L696.98 316.43 L698.12 315.3 L699.12 313.97 L699.97 312.47 L700.67 310.8 L701.19 308.99 L701.55 307.06 L701.73 305.03 L701.73 302.93 L701.55 300.77 L701.2 298.58 L700.68 296.39 L699.98 294.22 L699.13 292.1 L698.13 290.04 L697 288.08 L695.73 286.24 L694.36 284.53 L692.89 282.97 L691.35 281.59 L689.74 280.4 L688.09 279.41 L686.42 278.63 L684.74 278.08 L683.08 277.76 L681.45 277.66 L679.87 277.8 L678.36 278.18 L676.94 278.78 L675.62 279.6 L674.41 280.63 L673.34 281.86 L672.41 283.28 L671.64 284.87 L671.02 286.61 L670.58 288.48 L670.31 290.46 L670.22 292.53 L670.31 294.66 L670.57 296.84 L671.01 299.03 L671.62 301.22 L672.4 303.37 L673.32 305.46 L674.39 307.47 L675.59 309.38 L676.91 311.16 L678.33 312.79 L679.84 314.26 L681.42 315.55 L683.05 316.64 L684.71 317.52 L686.39 318.19 L688.07 318.63 L689.71 318.84 L691.32 318.82 L692.87 318.56 L694.34 318.07Z" fill="#fff" stroke="none"/><path d="M683.31 320.22 L694.34 318.07 L677.64 278.45 L668.39 284.84Z" fill="#fff" stroke="none"/><path d="M683.31 320.22 L694.34 318.07" fill="none" stroke="#111" stroke-width="0.95" stroke-linejoin="round" stroke-linecap="round" /><path d="M668.39 284.84 L677.64 278.45" fill="none" stroke="#111" stroke-width="0.95" stroke-linejoin="round" stroke-linecap="round" /><path d="M683.31 320.22 L684.56 319.58 L685.7 318.73 L686.73 317.69 L687.63 316.48 L688.4 315.1 L689.01 313.57 L689.48 311.91 L689.78 310.15 L689.92 308.29 L689.89 306.37 L689.71 304.4 L689.35 302.41 L688.84 300.43 L688.18 298.46 L687.37 296.55 L686.43 294.7 L685.36 292.95 L684.18 291.31 L682.91 289.8 L681.55 288.44 L680.12 287.24 L678.65 286.23 L677.14 285.4 L675.62 284.78 L674.1 284.36 L672.6 284.16 L671.13 284.17 L669.73 284.4 L668.39 284.84" fill="none" stroke="#111" stroke-width="1" stroke-linejoin="round" stroke-linecap="round" /><path d="M683.23 320.04 L684.44 319.41 L685.56 318.59 L686.57 317.59 L687.45 316.42 L688.21 315.09 L688.82 313.62 L689.29 312.02 L689.6 310.31 L689.76 308.52 L689.76 306.66 L689.61 304.75 L689.3 302.82 L688.83 300.88 L688.22 298.96 L687.47 297.09 L686.58 295.27 L685.58 293.54 L684.46 291.91 L683.25 290.4 L681.95 289.02 L680.59 287.8 L679.17 286.75 L677.71 285.87 L676.23 285.19 L674.75 284.7 L673.28 284.41 L671.84 284.33 L670.44 284.45 L669.11 284.78 L667.85 285.31 L666.68 286.04 L665.62 286.95 L664.67 288.04 L663.85 289.29 L663.17 290.7 L662.63 292.23 L662.23 293.89 L662 295.64 L661.92 297.47 L662 299.36 L662.23 301.28 L662.62 303.22 L663.16 305.15 L663.84 307.05 L664.66 308.89 L665.6 310.67 L666.67 312.36 L667.83 313.93 L669.09 315.37 L670.42 316.67 L671.82 317.81 L673.26 318.78 L674.73 319.56 L676.21 320.15 L677.69 320.53 L679.14 320.72 L680.57 320.7 L681.93 320.47 L683.23 320.04Z" fill="#fff" stroke="none"/><path d="M649.14 334.41 L683.23 320.04 L668.47 285.02 L634.38 299.39Z" fill="#fff" stroke="none"/><path d="M649.14 334.41 L683.23 320.04" fill="none" stroke="#111" stroke-width="0.95" stroke-linejoin="round" stroke-linecap="round" /><path d="M634.38 299.39 L668.47 285.02" fill="none" stroke="#111" stroke-width="0.95" stroke-linejoin="round" stroke-linecap="round" /><path d="M648.75 333.49 L649.9 332.89 L650.96 332.12 L651.91 331.17 L652.75 330.06 L653.46 328.8 L654.04 327.4 L654.49 325.89 L654.79 324.27 L654.94 322.58 L654.94 320.81 L654.79 319 L654.49 317.17 L654.05 315.34 L653.47 313.52 L652.76 311.74 L651.92 310.02 L650.97 308.38 L649.92 306.84 L648.77 305.41 L647.54 304.1 L646.24 302.95 L644.9 301.95 L643.52 301.12 L642.12 300.47 L640.71 300.01 L639.32 299.74 L637.96 299.66 L636.63 299.78 L635.37 300.09 L634.18 300.59 L633.07 301.28 L632.06 302.14 L631.17 303.17 L630.39 304.36 L629.74 305.69 L629.23 307.15 L628.86 308.71 L628.63 310.37 L628.56 312.11 L628.63 313.89 L628.85 315.72 L629.22 317.55 L629.73 319.38 L630.38 321.18 L631.15 322.93 L632.05 324.61 L633.05 326.21 L634.16 327.7 L635.35 329.07 L636.61 330.3 L637.93 331.38 L639.3 332.29 L640.69 333.03 L642.09 333.59 L643.5 333.96 L644.88 334.13 L646.22 334.11 L647.52 333.9 L648.75 333.49Z" fill="#fff" stroke="none"/><path d="M632.16 340.48 L648.75 333.49 L634.76 300.32 L618.18 307.31Z" fill="#fff" stroke="none"/><path d="M632.16 340.48 L648.75 333.49" fill="none" stroke="#111" stroke-width="0.95" stroke-linejoin="round" stroke-linecap="round" /><path d="M618.18 307.31 L634.76 300.32" fill="none" stroke="#111" stroke-width="0.95" stroke-linejoin="round" stroke-linecap="round" /><path d="M634.46 339.51 L635.63 338.9 L636.71 338.11 L637.67 337.13 L638.52 336 L639.24 334.7 L639.81 333.27 L640.25 331.72 L640.53 330.06 L640.66 328.33 L640.64 326.52 L640.46 324.68 L640.13 322.81 L639.65 320.95 L639.03 319.11 L638.27 317.31 L637.39 315.58 L636.39 313.94 L635.29 312.4 L634.09 310.98 L632.82 309.71 L631.48 308.59 L630.1 307.64 L628.68 306.86 L627.25 306.28 L625.83 305.89 L624.42 305.7 L623.05 305.71 L621.73 305.92 L620.48 306.34" fill="none" stroke="#111" stroke-width="0.6" stroke-linejoin="round" stroke-linecap="round" /><path d="M637.32 338.31 L638.49 337.7 L639.56 336.9 L640.53 335.93 L641.38 334.79 L642.09 333.5 L642.67 332.07 L643.1 330.52 L643.39 328.86 L643.52 327.12 L643.5 325.32 L643.32 323.47 L642.99 321.61 L642.51 319.75 L641.89 317.9 L641.13 316.11 L640.25 314.38 L639.25 312.73 L638.14 311.2 L636.95 309.78 L635.67 308.5 L634.34 307.38 L632.95 306.43 L631.54 305.66 L630.11 305.07 L628.68 304.68 L627.28 304.49 L625.91 304.51 L624.59 304.72 L623.34 305.13" fill="none" stroke="#111" stroke-width="0.6" stroke-linejoin="round" stroke-linecap="round" /><path d="M640.18 337.1 L641.35 336.49 L642.42 335.7 L643.39 334.73 L644.23 333.59 L644.95 332.29 L645.53 330.86 L645.96 329.31 L646.24 327.66 L646.38 325.92 L646.35 324.12 L646.17 322.27 L645.84 320.41 L645.37 318.54 L644.74 316.7 L643.99 314.9 L643.1 313.17 L642.1 311.53 L641 309.99 L639.8 308.58 L638.53 307.3 L637.19 306.18 L635.81 305.23 L634.4 304.45 L632.97 303.87 L631.54 303.48 L630.14 303.29 L628.76 303.3 L627.45 303.52 L626.19 303.93" fill="none" stroke="#111" stroke-width="0.6" stroke-linejoin="round" stroke-linecap="round" /><path d="M643.03 335.9 L644.2 335.29 L645.28 334.5 L646.24 333.52 L647.09 332.38 L647.8 331.09 L648.38 329.66 L648.82 328.11 L649.1 326.45 L649.23 324.71 L649.21 322.91 L649.03 321.07 L648.7 319.2 L648.22 317.34 L647.6 315.5 L646.84 313.7 L645.96 311.97 L644.96 310.33 L643.86 308.79 L642.66 307.37 L641.39 306.1 L640.05 304.98 L638.67 304.02 L637.25 303.25 L635.82 302.67 L634.4 302.28 L632.99 302.09 L631.62 302.1 L630.3 302.31 L629.05 302.72" fill="none" stroke="#111" stroke-width="0.6" stroke-linejoin="round" stroke-linecap="round" /><path d="M645.89 334.69 L647.06 334.09 L648.13 333.29 L649.1 332.32 L649.95 331.18 L650.66 329.89 L651.24 328.46 L651.67 326.9 L651.96 325.25 L652.09 323.51 L652.07 321.71 L651.89 319.86 L651.56 318 L651.08 316.13 L650.46 314.29 L649.7 312.5 L648.82 310.77 L647.82 309.12 L646.71 307.58 L645.52 306.17 L644.24 304.89 L642.91 303.77 L641.52 302.82 L640.11 302.05 L638.68 301.46 L637.25 301.07 L635.85 300.88 L634.48 300.89 L633.16 301.11 L631.91 301.52" fill="none" stroke="#111" stroke-width="0.6" stroke-linejoin="round" stroke-linecap="round" /><path d="M632.43 341.13 L633.63 340.51 L634.73 339.7 L635.72 338.71 L636.59 337.56 L637.33 336.25 L637.94 334.8 L638.4 333.23 L638.71 331.55 L638.86 329.79 L638.86 327.96 L638.71 326.08 L638.4 324.18 L637.94 322.27 L637.34 320.38 L636.6 318.53 L635.73 316.75 L634.74 315.04 L633.65 313.44 L632.45 311.95 L631.18 310.6 L629.83 309.4 L628.44 308.36 L627 307.5 L625.55 306.82 L624.09 306.34 L622.64 306.06 L621.22 305.98 L619.85 306.1 L618.53 306.43 L617.3 306.95 L616.15 307.66 L615.1 308.56 L614.17 309.63 L613.36 310.86 L612.69 312.24 L612.15 313.76 L611.77 315.39 L611.53 317.11 L611.46 318.91 L611.53 320.77 L611.76 322.66 L612.15 324.57 L612.68 326.47 L613.35 328.34 L614.15 330.16 L615.08 331.9 L616.13 333.56 L617.28 335.11 L618.51 336.53 L619.83 337.81 L621.2 338.93 L622.62 339.88 L624.06 340.65 L625.52 341.23 L626.98 341.61 L628.41 341.79 L629.81 341.77 L631.15 341.55 L632.43 341.13Z" fill="#fff" stroke="none"/><path d="M628.75 342.68 L632.43 341.13 L617.91 306.66 L614.22 308.22Z" fill="#fff" stroke="none"/><path d="M628.75 342.68 L632.43 341.13" fill="none" stroke="#111" stroke-width="0.95" stroke-linejoin="round" stroke-linecap="round" /><path d="M614.22 308.22 L617.91 306.66" fill="none" stroke="#111" stroke-width="0.95" stroke-linejoin="round" stroke-linecap="round" /><path d="M632.43 341.13 L633.65 340.5 L634.76 339.67 L635.77 338.66 L636.64 337.47 L637.39 336.13 L637.99 334.65 L638.44 333.03 L638.74 331.31 L638.87 329.51 L638.85 327.63 L638.66 325.72 L638.32 323.78 L637.82 321.84 L637.18 319.93 L636.39 318.07 L635.47 316.27 L634.43 314.56 L633.29 312.96 L632.04 311.49 L630.72 310.17 L629.33 309 L627.89 308.01 L626.43 307.21 L624.94 306.6 L623.46 306.2 L622 306 L620.58 306.01 L619.21 306.23 L617.91 306.66" fill="none" stroke="#111" stroke-width="0.8" stroke-linejoin="round" stroke-linecap="round" /><path d="M626.62 343.27 L628.11 342.92 L629.5 342.32 L630.78 341.47 L631.92 340.39 L632.91 339.1 L633.74 337.61 L634.39 335.94 L634.85 334.12 L635.12 332.17 L635.19 330.13 L635.07 328.02 L634.74 325.87 L634.23 323.72 L633.53 321.59 L632.66 319.52 L631.62 317.53 L630.44 315.66 L629.13 313.93 L627.7 312.36 L626.19 310.99 L624.61 309.82 L622.99 308.88 L621.34 308.18 L619.69 307.73 L618.07 307.54 L616.5 307.61 L615 307.93 L613.6 308.51 L612.31 309.33" fill="none" stroke="#111" stroke-width="0.8" stroke-linejoin="round" stroke-linecap="round" /><path d="M634.9 326.1 L664.4 313.5 L665.2 318.3 L638.7 330.7Z" fill="#fff" stroke="#111" stroke-width="0.8" stroke-linejoin="round"/><path d="M637 327.5 L664.6 315.6" fill="none" stroke="#111" stroke-width="0.5" stroke-linejoin="round" stroke-linecap="round" /><path d="M638.7 330.7 L639.5 333.5 L652 328" fill="none" stroke="#111" stroke-width="0.6" stroke-linejoin="round" stroke-linecap="round" /><path d="M627.5 339.73 L628.49 339.22 L629.4 338.55 L630.23 337.73 L630.95 336.78 L631.56 335.69 L632.06 334.49 L632.45 333.19 L632.7 331.8 L632.83 330.33 L632.83 328.81 L632.71 327.26 L632.45 325.68 L632.07 324.1 L631.57 322.54 L630.96 321.01 L630.24 319.52 L629.42 318.11 L628.51 316.78 L627.52 315.55 L626.46 314.43 L625.35 313.43 L624.19 312.57 L623 311.86 L621.8 311.3 L620.59 310.9 L619.39 310.67 L618.21 310.6 L617.07 310.7 L615.98 310.97 L614.96 311.4 L614.01 311.99 L613.14 312.74 L612.36 313.63 L611.7 314.65 L611.14 315.79 L610.69 317.05 L610.38 318.4 L610.18 319.82 L610.12 321.32 L610.18 322.86 L610.37 324.43 L610.69 326.01 L611.13 327.58 L611.68 329.13 L612.35 330.64 L613.12 332.09 L613.99 333.46 L614.94 334.75 L615.97 335.92 L617.05 336.98 L618.19 337.91 L619.37 338.7 L620.57 339.34 L621.78 339.82 L622.98 340.13 L624.17 340.28 L625.33 340.27 L626.44 340.08 L627.5 339.73Z" fill="#fff" stroke="none"/><path d="M586.04 357.21 L627.5 339.73 L615.46 311.16 L574 328.64Z" fill="#fff" stroke="none"/><path d="M586.04 357.21 L627.5 339.73" fill="none" stroke="#111" stroke-width="0.95" stroke-linejoin="round" stroke-linecap="round" /><path d="M574 328.64 L615.46 311.16" fill="none" stroke="#111" stroke-width="0.95" stroke-linejoin="round" stroke-linecap="round" /><path d="M584.27 357.7 L585.81 357.3 L587.23 356.57 L588.47 355.52 L589.52 354.19 L590.36 352.6 L590.95 350.78 L591.29 348.79 L591.38 346.66 L591.2 344.44 L590.77 342.19 L590.09 339.96 L589.17 337.79 L588.05 335.74 L586.74 333.86 L585.28 332.19 L583.7 330.76 L582.03 329.61 L580.31 328.77 L578.59 328.26 L576.9 328.08 L575.29 328.24 L573.78 328.74 L572.41 329.57" fill="none" stroke="#111" stroke-width="0.7" stroke-linejoin="round" stroke-linecap="round" /><path d="M592.85 354.17 L624.18 340.97 L626.41 338.62 L595.08 351.82Z" fill="none" stroke="#111" stroke-width="0.7" stroke-linejoin="round"/><path d="M596.34 352.43 L624.91 340.39" fill="none" stroke="#111" stroke-width="0.5" stroke-linejoin="round" stroke-linecap="round" /><path d="M596.8 346.66 L628.13 333.46 L628.1 329.23 L596.77 342.44Z" fill="none" stroke="#111" stroke-width="0.7" stroke-linejoin="round"/><path d="M599.66 344.29 L628.23 332.25" fill="none" stroke="#111" stroke-width="0.5" stroke-linejoin="round" stroke-linecap="round" /><path d="M594.97 336.04 L626.3 322.83 L624.03 318.9 L592.7 332.1Z" fill="none" stroke="#111" stroke-width="0.7" stroke-linejoin="round"/><path d="M597.14 333.66 L625.71 321.62" fill="none" stroke="#111" stroke-width="0.5" stroke-linejoin="round" stroke-linecap="round" /><path d="M588.3 327.75 L619.63 314.54 L616.28 312.93 L584.95 326.13Z" fill="none" stroke="#111" stroke-width="0.7" stroke-linejoin="round"/><path d="M590.09 325.98 L618.66 313.94" fill="none" stroke="#111" stroke-width="0.5" stroke-linejoin="round" stroke-linecap="round" /><path d="M585.84 356.75 L586.8 356.25 L587.68 355.6 L588.48 354.81 L589.18 353.89 L589.77 352.84 L590.26 351.68 L590.63 350.41 L590.87 349.07 L591 347.65 L591 346.18 L590.88 344.68 L590.63 343.15 L590.26 341.62 L589.78 340.11 L589.19 338.63 L588.49 337.19 L587.7 335.83 L586.82 334.54 L585.86 333.34 L584.83 332.26 L583.76 331.3 L582.64 330.47 L581.49 329.78 L580.32 329.23 L579.15 328.85 L577.99 328.62 L576.85 328.56 L575.75 328.65 L574.69 328.91 L573.7 329.33 L572.78 329.91 L571.94 330.63 L571.19 331.49 L570.54 332.47 L570 333.58 L569.58 334.8 L569.27 336.1 L569.08 337.48 L569.02 338.93 L569.08 340.42 L569.26 341.94 L569.57 343.47 L569.99 344.99 L570.53 346.49 L571.18 347.95 L571.93 349.35 L572.76 350.68 L573.69 351.92 L574.68 353.06 L575.73 354.09 L576.83 354.99 L577.97 355.75 L579.13 356.37 L580.3 356.83 L581.47 357.14 L582.62 357.28 L583.74 357.27 L584.82 357.09 L585.84 356.75Z" fill="#fff" stroke="none"/><path d="M568.33 364.13 L585.84 356.75 L574.19 329.1 L556.68 336.48Z" fill="#fff" stroke="none"/><path d="M568.33 364.13 L585.84 356.75" fill="none" stroke="#111" stroke-width="0.95" stroke-linejoin="round" stroke-linecap="round" /><path d="M556.68 336.48 L574.19 329.1" fill="none" stroke="#111" stroke-width="0.95" stroke-linejoin="round" stroke-linecap="round" /><path d="M565 362.8 L570.41 363.9 L587 356.91 L590.13 355.43 L589.44 355.23 L572.85 362.22 L566.22 361.96" fill="#fff" stroke="#111" stroke-width="0.9" stroke-linejoin="round"/><path d="M568.05 359.35 L574.45 359.93 L591.04 352.94 L593.53 350.57 L592.13 349.58 L575.54 356.57 L568.6 357.66" fill="#fff" stroke="#111" stroke-width="0.9" stroke-linejoin="round"/><path d="M568.87 353.78 L575.78 353.17 L592.37 346.18 L594.05 343.35 L591.82 342.05 L575.23 349.04 L568.6 351.7" fill="#fff" stroke="#111" stroke-width="0.9" stroke-linejoin="round"/><path d="M567.25 347.6 L574.05 345.44 L590.64 338.45 L591.55 335.71 L588.59 334.64 L572.01 341.64 L566.23 345.69" fill="#fff" stroke="#111" stroke-width="0.9" stroke-linejoin="round"/><path d="M563.62 342.45 L569.72 338.8 L586.31 331.81 L586.7 329.69 L583.32 329.36 L566.73 336.35 L562.12 341.22" fill="#fff" stroke="#111" stroke-width="0.9" stroke-linejoin="round"/><path d="M558.95 339.72 L563.95 335.03 L580.54 328.04 L580.8 326.9 L577.41 327.6 L560.82 334.59 L557.37 339.5" fill="#fff" stroke="#111" stroke-width="0.9" stroke-linejoin="round"/><path d="M554.49 340.14 L558.29 335.15 L574.88 328.16 L575.43 328.09 L572.44 329.85 L555.85 336.84 L553.26 340.99" fill="#fff" stroke="#111" stroke-width="0.9" stroke-linejoin="round"/><path d="M563.03 364.41 L563.87 363.97 L564.65 363.41 L565.35 362.71 L565.96 361.89 L566.49 360.97 L566.91 359.95 L567.24 358.84 L567.46 357.65 L567.57 356.41 L567.57 355.11 L567.46 353.79 L567.24 352.45 L566.92 351.1 L566.49 349.77 L565.97 348.46 L565.36 347.2 L564.66 346 L563.88 344.87 L563.04 343.82 L562.14 342.86 L561.19 342.01 L560.21 341.28 L559.19 340.68 L558.17 340.2 L557.14 339.86 L556.11 339.66 L555.11 339.6 L554.14 339.69 L553.22 339.92 L552.34 340.29 L551.53 340.79 L550.79 341.42 L550.14 342.18 L549.56 343.05 L549.09 344.02 L548.71 345.09 L548.44 346.24 L548.28 347.46 L548.22 348.73 L548.27 350.04 L548.44 351.38 L548.71 352.72 L549.08 354.06 L549.56 355.38 L550.12 356.67 L550.78 357.9 L551.52 359.07 L552.33 360.17 L553.2 361.17 L554.13 362.07 L555.1 362.86 L556.1 363.53 L557.12 364.08 L558.15 364.48 L559.18 364.75 L560.19 364.88 L561.18 364.87 L562.13 364.71 L563.03 364.41Z" fill="#fff" stroke="#111" stroke-width="0.9"/><path d="M559.53 356.12 L559.8 355.98 L560.05 355.8 L560.27 355.58 L560.47 355.32 L560.63 355.02 L560.77 354.7 L560.87 354.34 L560.94 353.97 L560.98 353.57 L560.98 353.16 L560.94 352.74 L560.87 352.31 L560.77 351.88 L560.63 351.46 L560.47 351.04 L560.27 350.64 L560.05 350.26 L559.8 349.9 L559.54 349.57 L559.25 349.26 L558.95 348.99 L558.63 348.76 L558.31 348.57 L557.98 348.41 L557.66 348.31 L557.33 348.24 L557.01 348.22 L556.7 348.25 L556.41 348.32 L556.13 348.44 L555.87 348.6 L555.64 348.8 L555.43 349.04 L555.25 349.32 L555.1 349.63 L554.98 349.97 L554.89 350.34 L554.84 350.72 L554.82 351.13 L554.84 351.55 L554.89 351.97 L554.98 352.4 L555.09 352.83 L555.25 353.25 L555.43 353.65 L555.64 354.05 L555.87 354.42 L556.13 354.77 L556.41 355.09 L556.7 355.37 L557.01 355.63 L557.33 355.84 L557.65 356.01 L557.98 356.14 L558.31 356.23 L558.63 356.27 L558.94 356.26 L559.24 356.21 L559.53 356.12Z" fill="#fff" stroke="#111" stroke-width="0.7"/><path d="M557.65 347.8 L557.14 348.11 L556.73 348.58 L556.43 349.18 L556.25 349.89 L556.2 350.68 L556.29 351.52 L556.51 352.36 L556.85 353.17 L557.3 353.91 L557.84 354.55 L558.43 355.07 L559.07 355.44 L559.71 355.65 L560.33 355.68 L560.91 355.54" fill="none" stroke="#111" stroke-width="0.5" stroke-linejoin="round" stroke-linecap="round" /><path d="M557.9 352.25 L528.1 364.81" fill="none" stroke="#111" stroke-width="1" stroke-linejoin="round" stroke-linecap="round" /><ellipse cx="529.12" cy="364.38" rx="30" ry="20.25" transform="rotate(67.14 529.12 364.38)" fill="#fff" stroke="#111" stroke-width="0.9" /><path d="M539.75 392.45 L540.77 392.02 L517.47 336.73 L516.45 337.16Z" fill="#fff" stroke="none"/><path d="M539.75 392.45 L540.77 392.02" fill="none" stroke="#111" stroke-width="0.9" stroke-linejoin="round" stroke-linecap="round" /><path d="M516.45 337.16 L517.47 336.73" fill="none" stroke="#111" stroke-width="0.9" stroke-linejoin="round" stroke-linecap="round" /><path d="M539.75 392.45 L541.36 391.65 L542.86 390.64 L544.24 389.42 L545.5 388.01 L546.62 386.42 L547.6 384.66 L548.42 382.75 L549.09 380.7 L549.59 378.52 L549.92 376.23 L550.08 373.85 L550.07 371.41 L549.89 368.91 L549.54 366.38 L549.02 363.84 L548.33 361.3 L547.49 358.79 L546.5 356.33 L545.36 353.94 L544.09 351.63 L542.69 349.42 L541.18 347.34 L539.56 345.39 L537.86 343.59 L536.08 341.96 L534.23 340.51 L532.34 339.25 L530.42 338.19 L528.47 337.33 L526.53 336.7 L524.6 336.28 L522.69 336.08 L520.83 336.11 L519.02 336.37 L517.28 336.84 L515.63 337.54 L514.08 338.45 L512.64 339.56 L511.31 340.88 L510.12 342.38 L509.07 344.05 L508.17 345.89 L507.43 347.88 L506.84 350 L506.42 352.23 L506.18 354.57 L506.1 356.98 L506.2 359.45 L506.46 361.97 L506.9 364.51 L507.5 367.05 L508.27 369.57 L509.19 372.06 L510.25 374.49 L511.46 376.84 L512.8 379.1 L514.25 381.25 L515.82 383.27 L517.48 385.15 L519.22 386.86 L521.04 388.4 L522.91 389.76 L524.82 390.92 L526.75 391.88 L528.7 392.63 L530.64 393.16 L532.56 393.47 L534.45 393.55 L536.28 393.41 L538.06 393.04 L539.75 392.45Z M535.67 382.78 L536.72 382.26 L537.69 381.6 L538.59 380.81 L539.41 379.89 L540.14 378.86 L540.77 377.71 L541.31 376.47 L541.74 375.13 L542.07 373.72 L542.28 372.23 L542.39 370.69 L542.38 369.1 L542.26 367.47 L542.03 365.83 L541.7 364.18 L541.25 362.53 L540.7 360.9 L540.06 359.3 L539.32 357.74 L538.49 356.24 L537.58 354.81 L536.6 353.45 L535.55 352.19 L534.44 351.02 L533.28 349.96 L532.09 349.02 L530.86 348.2 L529.61 347.5 L528.34 346.95 L527.08 346.54 L525.82 346.26 L524.58 346.14 L523.37 346.16 L522.2 346.32 L521.07 346.63 L520 347.08 L518.99 347.67 L518.05 348.4 L517.19 349.25 L516.42 350.23 L515.73 351.32 L515.15 352.51 L514.66 353.8 L514.28 355.18 L514.01 356.63 L513.85 358.15 L513.8 359.72 L513.86 361.33 L514.04 362.96 L514.32 364.61 L514.71 366.27 L515.21 367.91 L515.81 369.52 L516.5 371.1 L517.28 372.63 L518.15 374.1 L519.1 375.5 L520.12 376.81 L521.2 378.03 L522.33 379.14 L523.51 380.15 L524.73 381.03 L525.97 381.78 L527.22 382.41 L528.49 382.89 L529.75 383.24 L531 383.44 L532.23 383.49 L533.42 383.4 L534.57 383.16 L535.67 382.78Z" fill="#fff" fill-rule="evenodd" stroke="#111" stroke-width="0.9"/><path d="M521.04 346.64 L520.14 347.15 L519.3 347.77 L518.52 348.5 L517.8 349.31 L517.15 350.23 L516.57 351.22 L516.07 352.3 L515.65 353.46 L515.32 354.68 L515.07 355.96 L514.9 357.29 L514.83 358.67 L514.84 360.08 L514.94 361.51 L515.12 362.97 L515.39 364.43 L515.75 365.89 L516.19 367.35 L516.7 368.78 L517.3 370.19 L517.96 371.56 L518.7 372.89 L519.5 374.17 L520.35 375.38 L521.27 376.53 L522.23 377.61 L523.23 378.6 L524.27 379.5 L525.34 380.32 L526.43 381.03 L527.54 381.64 L528.65 382.15 L529.77 382.55 L530.89 382.83 L532 383 L533.08 383.06 L534.15 383 L535.18 382.83 L536.18 382.55" fill="none" stroke="#111" stroke-width="0.8" stroke-linejoin="round" stroke-linecap="round" /><path d="M540.23 359.7 L465.8 391.07" fill="none" stroke="#111" stroke-width="1" stroke-linejoin="round" stroke-linecap="round" /><ellipse cx="476" cy="386.77" rx="34.5" ry="23.29" transform="rotate(67.14 476 386.77)" fill="#fff" stroke="#111" stroke-width="1" /><path d="M479.2 422.86 L489.4 418.56 L462.6 354.98 L452.4 359.28Z" fill="#fff" stroke="none"/><path d="M479.2 422.86 L489.4 418.56" fill="none" stroke="#111" stroke-width="1" stroke-linejoin="round" stroke-linecap="round" /><path d="M452.4 359.28 L462.6 354.98" fill="none" stroke="#111" stroke-width="1" stroke-linejoin="round" stroke-linecap="round" /><path d="M460.55 411.19 L461.93 412.54 L463.35 413.79 L464.8 414.94 L466.28 415.99 L467.79 416.92 L469.31 417.74 L470.84 418.44 L472.37 419.02 L473.91 419.48 L475.43 419.82 L476.94 420.02" fill="none" stroke="#111" stroke-width="0.5" stroke-linejoin="round" stroke-linecap="round" /><path d="M479.2 422.86 L481.04 421.94 L482.77 420.77 L484.36 419.37 L485.81 417.75 L487.1 415.92 L488.22 413.9 L489.17 411.7 L489.93 409.34 L490.51 406.83 L490.89 404.2 L491.08 401.47 L491.07 398.66 L490.86 395.78 L490.45 392.87 L489.86 389.95 L489.07 387.04 L488.1 384.15 L486.96 381.32 L485.65 378.57 L484.18 375.91 L482.58 373.38 L480.84 370.98 L478.98 368.74 L477.02 366.67 L474.97 364.8 L472.85 363.13 L470.68 361.67 L468.46 360.45 L466.23 359.47 L463.99 358.74 L461.77 358.26 L459.58 358.03 L457.44 358.07 L455.36 358.36 L453.36 358.91 L451.46 359.71 L449.68 360.75 L448.02 362.04 L446.5 363.55 L445.13 365.27 L443.92 367.2 L442.88 369.31 L442.02 371.6 L441.35 374.03 L440.87 376.6 L440.59 379.29 L440.5 382.06 L440.61 384.91 L440.92 387.8 L441.42 390.72 L442.11 393.65 L442.99 396.55 L444.05 399.41 L445.28 402.2 L446.66 404.91 L448.2 407.51 L449.88 409.98 L451.68 412.3 L453.59 414.46 L455.59 416.43 L457.68 418.2 L459.83 419.76 L462.03 421.1 L464.25 422.2 L466.49 423.06 L468.72 423.67 L470.93 424.02 L473.1 424.12 L475.21 423.96 L477.25 423.53 L479.2 422.86Z M472.81 407.69 L473.77 407.21 L474.67 406.6 L475.5 405.87 L476.26 405.02 L476.94 404.06 L477.52 403.01 L478.02 401.86 L478.42 400.62 L478.72 399.31 L478.92 397.94 L479.02 396.51 L479.01 395.04 L478.9 393.53 L478.69 392.01 L478.38 390.48 L477.97 388.96 L477.46 387.45 L476.86 385.97 L476.18 384.53 L475.41 383.14 L474.57 381.82 L473.66 380.56 L472.69 379.39 L471.67 378.31 L470.6 377.33 L469.49 376.46 L468.35 375.7 L467.19 375.06 L466.03 374.55 L464.86 374.16 L463.69 373.91 L462.55 373.8 L461.43 373.81 L460.34 373.97 L459.3 374.25 L458.3 374.67 L457.37 375.22 L456.5 375.89 L455.71 376.68 L454.99 377.58 L454.36 378.59 L453.82 379.69 L453.37 380.89 L453.02 382.16 L452.77 383.51 L452.62 384.91 L452.57 386.36 L452.63 387.85 L452.79 389.36 L453.05 390.89 L453.42 392.42 L453.88 393.93 L454.43 395.43 L455.07 396.89 L455.79 398.3 L456.6 399.66 L457.47 400.95 L458.42 402.17 L459.41 403.3 L460.46 404.33 L461.55 405.26 L462.68 406.07 L463.83 406.77 L464.99 407.35 L466.16 407.8 L467.33 408.11 L468.48 408.3 L469.62 408.35 L470.72 408.26 L471.79 408.04 L472.81 407.69Z" fill="#fff" fill-rule="evenodd" stroke="#111" stroke-width="1"/><ellipse cx="465.8" cy="391.07" rx="29.87" ry="20.16" transform="rotate(67.14 465.8 391.07)" fill="none" stroke="#111" stroke-width="0.8" /><ellipse cx="465.8" cy="391.07" rx="28.39" ry="19.16" transform="rotate(67.14 465.8 391.07)" fill="none" stroke="#111" stroke-width="0.5" /><ellipse cx="465.8" cy="391.07" rx="23.26" ry="15.7" transform="rotate(67.14 465.8 391.07)" fill="none" stroke="#111" stroke-width="0.5" /><ellipse cx="465.8" cy="391.07" rx="21.69" ry="14.64" transform="rotate(67.14 465.8 391.07)" fill="none" stroke="#111" stroke-width="0.8" /><path d="M478.61 416.31 L480.17 415.18 L481.59 413.82 L482.85 412.24 L479.77 408.42 L478.74 409.71 L477.57 410.83 L476.3 411.75Z" fill="none" stroke="#111" stroke-width="0.7" stroke-linejoin="round" stroke-linecap="round" /><path d="M485.1 407.86 L485.78 405.66 L486.26 403.32 L486.54 400.87 L482.79 399.1 L482.56 401.11 L482.17 403.03 L481.61 404.83Z" fill="none" stroke="#111" stroke-width="0.7" stroke-linejoin="round" stroke-linecap="round" /><path d="M486.42 394.91 L486.03 392.23 L485.45 389.54 L484.67 386.87 L481.26 387.63 L481.9 389.82 L482.38 392.02 L482.69 394.22Z" fill="none" stroke="#111" stroke-width="0.7" stroke-linejoin="round" stroke-linecap="round" /><path d="M482.21 380.93 L480.86 378.49 L479.37 376.17 L477.75 374 L475.59 377.08 L476.92 378.86 L478.14 380.76 L479.25 382.76Z" fill="none" stroke="#111" stroke-width="0.7" stroke-linejoin="round" stroke-linecap="round" /><path d="M473.6 369.67 L471.66 368.12 L469.66 366.79 L467.62 365.7 L467.29 370.28 L468.96 371.17 L470.6 372.26 L472.2 373.53Z" fill="none" stroke="#111" stroke-width="0.7" stroke-linejoin="round" stroke-linecap="round" /><path d="M462.91 364.14 L460.89 363.9 L458.91 363.91 L457.01 364.2 L458.6 369.05 L460.16 368.82 L461.77 368.8 L463.43 369Z" fill="none" stroke="#111" stroke-width="0.7" stroke-linejoin="round" stroke-linecap="round" /><path d="M452.99 365.83 L451.43 366.95 L450.01 368.31 L448.75 369.9 L451.83 373.72 L452.86 372.42 L454.03 371.31 L455.3 370.39Z" fill="none" stroke="#111" stroke-width="0.7" stroke-linejoin="round" stroke-linecap="round" /><path d="M446.5 374.28 L445.82 376.47 L445.34 378.81 L445.06 381.27 L448.81 383.04 L449.04 381.02 L449.43 379.11 L449.99 377.31Z" fill="none" stroke="#111" stroke-width="0.7" stroke-linejoin="round" stroke-linecap="round" /><path d="M445.18 387.23 L445.57 389.9 L446.15 392.59 L446.93 395.27 L450.34 394.51 L449.7 392.32 L449.22 390.11 L448.91 387.92Z" fill="none" stroke="#111" stroke-width="0.7" stroke-linejoin="round" stroke-linecap="round" /><path d="M449.39 401.2 L450.74 403.65 L452.23 405.97 L453.85 408.14 L456.01 405.06 L454.68 403.28 L453.46 401.38 L452.35 399.37Z" fill="none" stroke="#111" stroke-width="0.7" stroke-linejoin="round" stroke-linecap="round" /><path d="M458 412.47 L459.94 414.02 L461.94 415.35 L463.98 416.44 L464.31 411.86 L462.64 410.96 L461 409.88 L459.4 408.6Z" fill="none" stroke="#111" stroke-width="0.7" stroke-linejoin="round" stroke-linecap="round" /><path d="M468.69 417.99 L470.71 418.24 L472.69 418.22 L474.59 417.94 L473 413.09 L471.44 413.32 L469.83 413.33 L468.17 413.13Z" fill="none" stroke="#111" stroke-width="0.7" stroke-linejoin="round" stroke-linecap="round" /><path d="M464.66 374.11 L464.29 374.8 L463.96 375.52 L463.67 376.27 L463.42 377.06 L463.21 377.88 L463.04 378.73 L462.91 379.61 L462.82 380.5 L462.78 381.42 L462.77 382.36 L462.81 383.3 L462.89 384.26 L463.01 385.23 L463.18 386.2 L463.38 387.18 L463.62 388.15 L463.91 389.12 L464.23 390.08 L464.59 391.03 L464.98 391.97 L465.41 392.89 L465.87 393.79 L466.37 394.66 L466.9 395.52 L467.45 396.34 L468.03 397.14 L468.64 397.9 L469.27 398.63 L469.92 399.32 L470.59 399.97 L471.28 400.57 L471.99 401.14 L472.7 401.66 L473.43 402.13 L474.17 402.55 L474.91 402.92 L475.65 403.24 L476.4 403.51 L477.14 403.73" fill="none" stroke="#111" stroke-width="0.8" stroke-linejoin="round" stroke-linecap="round" /><path d="M461.24 373.83 L460.59 374.43 L459.99 375.1 L459.45 375.84 L458.95 376.64 L458.52 377.51 L458.14 378.43 L457.82 379.41 L457.56 380.43 L457.37 381.5 L457.24 382.6 L457.17 383.73 L457.17 384.9 L457.23 386.08 L457.36 387.27 L457.55 388.48 L457.8 389.69 L458.12 390.9 L458.5 392.1 L458.93 393.28 L459.42 394.44 L459.97 395.58 L460.56 396.68 L461.2 397.75 L461.89 398.78 L462.62 399.76 L463.39 400.69 L464.19 401.56 L465.02 402.37 L465.88 403.11 L466.76 403.79 L467.66 404.39 L468.57 404.92 L469.49 405.38 L470.42 405.75 L471.34 406.04 L472.26 406.25 L473.18 406.37 L474.07 406.42 L474.95 406.37" fill="none" stroke="#111" stroke-width="0.5" stroke-linejoin="round" stroke-linecap="round" /><path d="M477.02 386.34 L426.3 407.72" fill="none" stroke="#111" stroke-width="1" stroke-linejoin="round" stroke-linecap="round" /><ellipse cx="427.52" cy="407.2" rx="26" ry="17.55" transform="rotate(67.14 427.52 407.2)" fill="#fff" stroke="#111" stroke-width="0.9" /><path d="M436.4 431.68 L437.62 431.16 L417.43 383.24 L416.2 383.76Z" fill="#fff" stroke="none"/><path d="M436.4 431.68 L437.62 431.16" fill="none" stroke="#111" stroke-width="0.9" stroke-linejoin="round" stroke-linecap="round" /><path d="M416.2 383.76 L417.43 383.24" fill="none" stroke="#111" stroke-width="0.9" stroke-linejoin="round" stroke-linecap="round" /><path d="M436.4 431.68 L437.79 430.98 L439.09 430.1 L440.29 429.05 L441.38 427.83 L442.35 426.45 L443.2 424.93 L443.91 423.27 L444.49 421.49 L444.92 419.6 L445.21 417.62 L445.35 415.56 L445.34 413.44 L445.19 411.27 L444.88 409.08 L444.43 406.87 L443.84 404.68 L443.11 402.5 L442.24 400.37 L441.26 398.3 L440.16 396.3 L438.94 394.38 L437.63 392.58 L436.23 390.89 L434.76 389.33 L433.21 387.92 L431.61 386.66 L429.98 385.57 L428.31 384.65 L426.62 383.91 L424.94 383.35 L423.26 382.99 L421.61 382.82 L420 382.85 L418.43 383.07 L416.93 383.48 L415.5 384.08 L414.15 384.87 L412.9 385.84 L411.75 386.98 L410.72 388.28 L409.81 389.73 L409.03 391.32 L408.38 393.04 L407.88 394.88 L407.51 396.82 L407.3 398.84 L407.23 400.93 L407.32 403.08 L407.55 405.26 L407.93 407.46 L408.45 409.66 L409.11 411.85 L409.91 414 L410.83 416.11 L411.88 418.15 L413.04 420.11 L414.3 421.97 L415.66 423.72 L417.1 425.34 L418.61 426.83 L420.18 428.17 L421.8 429.34 L423.46 430.35 L425.13 431.18 L426.82 431.83 L428.5 432.29 L430.17 432.55 L431.8 432.63 L433.39 432.5 L434.93 432.18 L436.4 431.68Z M434.65 427.53 L435.8 426.95 L436.87 426.23 L437.87 425.36 L438.77 424.35 L439.57 423.21 L440.27 421.95 L440.86 420.58 L441.34 419.1 L441.7 417.54 L441.94 415.9 L442.05 414.2 L442.05 412.45 L441.92 410.66 L441.66 408.84 L441.29 407.02 L440.8 405.2 L440.2 403.41 L439.49 401.64 L438.67 399.93 L437.76 398.27 L436.75 396.69 L435.67 395.2 L434.51 393.8 L433.29 392.51 L432.02 391.34 L430.7 390.3 L429.34 389.4 L427.96 388.64 L426.57 388.03 L425.17 387.57 L423.79 387.27 L422.42 387.13 L421.09 387.15 L419.79 387.33 L418.55 387.68 L417.37 388.17 L416.25 388.83 L415.22 389.63 L414.27 390.57 L413.42 391.64 L412.66 392.84 L412.02 394.16 L411.48 395.58 L411.07 397.1 L410.77 398.7 L410.59 400.38 L410.53 402.11 L410.6 403.88 L410.79 405.68 L411.11 407.5 L411.54 409.32 L412.09 411.13 L412.75 412.91 L413.51 414.66 L414.38 416.34 L415.33 417.96 L416.38 419.5 L417.5 420.95 L418.69 422.29 L419.94 423.52 L421.24 424.63 L422.58 425.6 L423.95 426.43 L425.33 427.12 L426.73 427.66 L428.12 428.03 L429.5 428.25 L430.85 428.31 L432.17 428.21 L433.44 427.95 L434.65 427.53Z" fill="#fff" fill-rule="evenodd" stroke="#111" stroke-width="0.9"/><path d="M418.57 387.67 L417.58 388.24 L416.66 388.93 L415.8 389.72 L415.01 390.63 L414.3 391.63 L413.67 392.74 L413.12 393.93 L412.67 395.2 L412.3 396.54 L412.03 397.95 L411.85 399.42 L411.76 400.93 L411.78 402.48 L411.89 404.06 L412.09 405.66 L412.39 407.27 L412.78 408.88 L413.27 410.48 L413.83 412.06 L414.49 413.61 L415.22 415.12 L416.03 416.58 L416.91 417.98 L417.85 419.32 L418.85 420.59 L419.91 421.77 L421.01 422.86 L422.15 423.86 L423.32 424.76 L424.52 425.54 L425.74 426.22 L426.97 426.78 L428.2 427.22 L429.43 427.54 L430.65 427.73 L431.85 427.8 L433.02 427.74 L434.16 427.56 L435.25 427.25" fill="none" stroke="#111" stroke-width="0.8" stroke-linejoin="round" stroke-linecap="round" /><path d="M439.67 402.08 L378.1 428.03" fill="none" stroke="#111" stroke-width="1" stroke-linejoin="round" stroke-linecap="round" /><ellipse cx="386.85" cy="424.34" rx="25.5" ry="17.21" transform="rotate(67.14 386.85 424.34)" fill="#fff" stroke="#111" stroke-width="0.9" /><path d="M394.45 448.81 L396.76 447.84 L376.95 400.85 L374.65 401.82Z" fill="#fff" stroke="none"/><path d="M394.45 448.81 L396.76 447.84" fill="none" stroke="#111" stroke-width="0.9" stroke-linejoin="round" stroke-linecap="round" /><path d="M374.65 401.82 L376.95 400.85" fill="none" stroke="#111" stroke-width="0.9" stroke-linejoin="round" stroke-linecap="round" /><ellipse cx="384.55" cy="425.31" rx="25.5" ry="17.21" transform="rotate(67.14 384.55 425.31)" fill="#fff" stroke="#111" stroke-width="0.8" /><path d="M386.26 447.38 L394.45 448.81 L374.65 401.82 L369.94 408.68Z" fill="#fff" stroke="none"/><path d="M386.26 447.38 L394.45 448.81" fill="none" stroke="#111" stroke-width="0.9" stroke-linejoin="round" stroke-linecap="round" /><path d="M369.94 408.68 L374.65 401.82" fill="none" stroke="#111" stroke-width="0.9" stroke-linejoin="round" stroke-linecap="round" /><path d="M389.6 447.6 L391.07 446.84 L392.41 445.85 L393.61 444.63 L394.67 443.21 L395.57 441.59 L396.29 439.8 L396.83 437.86 L397.19 435.8 L397.35 433.62 L397.32 431.37 L397.1 429.06 L396.69 426.73 L396.09 424.4 L395.31 422.1 L394.37 419.86 L393.26 417.69 L392.01 415.64 L390.63 413.71 L389.14 411.94 L387.54 410.35 L385.87 408.95 L384.14 407.76 L382.38 406.79 L380.59 406.06 L378.81 405.57 L377.05 405.34 L375.34 405.35 L373.69 405.62 L372.13 406.14" fill="none" stroke="#111" stroke-width="0.5" stroke-linejoin="round" stroke-linecap="round" /><path d="M386.26 447.38 L387.38 446.82 L388.43 446.11 L389.4 445.26 L390.28 444.28 L391.06 443.16 L391.75 441.93 L392.32 440.59 L392.79 439.15 L393.14 437.63 L393.37 436.03 L393.49 434.37 L393.48 432.65 L393.35 430.9 L393.11 429.13 L392.74 427.35 L392.26 425.58 L391.67 423.82 L390.98 422.1 L390.18 420.43 L389.29 418.81 L388.31 417.26 L387.25 415.81 L386.12 414.44 L384.93 413.18 L383.68 412.04 L382.39 411.03 L381.07 410.14 L379.72 409.4 L378.36 408.8 L377 408.35 L375.65 408.06 L374.31 407.93 L373.01 407.95 L371.74 408.12 L370.53 408.46 L369.37 408.94 L368.29 409.58 L367.28 410.36 L366.35 411.28 L365.52 412.33 L364.78 413.5 L364.15 414.79 L363.63 416.18 L363.22 417.67 L362.93 419.23 L362.75 420.86 L362.7 422.55 L362.77 424.29 L362.96 426.05 L363.26 427.82 L363.68 429.6 L364.22 431.37 L364.86 433.11 L365.61 434.81 L366.45 436.46 L367.39 438.04 L368.41 439.54 L369.5 440.96 L370.67 442.27 L371.89 443.47 L373.16 444.55 L374.47 445.5 L375.8 446.31 L377.16 446.99 L378.52 447.51 L379.88 447.88 L381.22 448.09 L382.54 448.15 L383.83 448.05 L385.07 447.8 L386.26 447.38Z M385.32 445.17 L386.32 444.68 L387.25 444.05 L388.11 443.29 L388.89 442.42 L389.58 441.43 L390.19 440.34 L390.7 439.16 L391.11 437.88 L391.42 436.53 L391.63 435.11 L391.73 433.64 L391.72 432.13 L391.61 430.58 L391.39 429.01 L391.07 427.43 L390.65 425.86 L390.12 424.3 L389.51 422.78 L388.8 421.29 L388.01 419.86 L387.14 418.5 L386.21 417.2 L385.21 415.99 L384.15 414.88 L383.05 413.87 L381.9 412.97 L380.73 412.19 L379.54 411.53 L378.33 411 L377.13 410.6 L375.93 410.34 L374.75 410.22 L373.59 410.24 L372.47 410.4 L371.39 410.7 L370.37 411.13 L369.41 411.69 L368.51 412.38 L367.69 413.2 L366.95 414.13 L366.3 415.17 L365.74 416.31 L365.28 417.54 L364.92 418.85 L364.66 420.24 L364.51 421.68 L364.46 423.18 L364.52 424.71 L364.69 426.27 L364.96 427.85 L365.33 429.42 L365.8 430.99 L366.37 432.53 L367.04 434.04 L367.78 435.5 L368.61 436.9 L369.52 438.23 L370.49 439.48 L371.52 440.64 L372.6 441.71 L373.72 442.66 L374.88 443.5 L376.06 444.23 L377.26 444.82 L378.47 445.28 L379.67 445.61 L380.87 445.8 L382.04 445.85 L383.17 445.76 L384.27 445.54 L385.32 445.17Z" fill="#fff" fill-rule="evenodd" stroke="#111" stroke-width="1"/><path d="M375.79 410.32 L375.33 411.02 L374.91 411.76 L374.53 412.54 L374.2 413.38 L373.91 414.25 L373.68 415.16 L373.49 416.1 L373.35 417.07 L373.26 418.07 L373.22 419.09 L373.23 420.14 L373.29 421.19 L373.4 422.26 L373.56 423.34 L373.77 424.42 L374.02 425.5 L374.33 426.58 L374.68 427.64 L375.07 428.7 L375.51 429.74 L375.99 430.76 L376.51 431.75 L377.07 432.72 L377.66 433.66 L378.29 434.56 L378.95 435.43 L379.64 436.26 L380.35 437.04 L381.09 437.77 L381.85 438.46 L382.63 439.09 L383.42 439.67 L384.23 440.19 L385.04 440.66 L385.87 441.06 L386.69 441.41 L387.52 441.69 L388.35 441.9 L389.16 442.05" fill="none" stroke="#111" stroke-width="0.8" stroke-linejoin="round" stroke-linecap="round" /><path d="M389.67 423.16 L344.4 442.24" fill="none" stroke="#111" stroke-width="1" stroke-linejoin="round" stroke-linecap="round" /><ellipse cx="345.62" cy="441.72" rx="26" ry="17.55" transform="rotate(67.14 345.62 441.72)" fill="#fff" stroke="#111" stroke-width="0.9" /><path d="M354.5 466.2 L355.72 465.68 L335.53 417.76 L334.3 418.28Z" fill="#fff" stroke="none"/><path d="M354.5 466.2 L355.72 465.68" fill="none" stroke="#111" stroke-width="0.9" stroke-linejoin="round" stroke-linecap="round" /><path d="M334.3 418.28 L335.53 417.76" fill="none" stroke="#111" stroke-width="0.9" stroke-linejoin="round" stroke-linecap="round" /><path d="M354.5 466.2 L355.89 465.5 L357.19 464.62 L358.39 463.57 L359.48 462.35 L360.45 460.97 L361.3 459.45 L362.01 457.79 L362.59 456.01 L363.02 454.12 L363.31 452.14 L363.45 450.08 L363.44 447.96 L363.29 445.79 L362.98 443.6 L362.53 441.4 L361.94 439.2 L361.21 437.03 L360.34 434.89 L359.36 432.82 L358.26 430.82 L357.04 428.91 L355.73 427.1 L354.33 425.41 L352.86 423.85 L351.31 422.44 L349.71 421.18 L348.08 420.09 L346.41 419.17 L344.72 418.43 L343.04 417.87 L341.36 417.51 L339.71 417.34 L338.1 417.37 L336.53 417.59 L335.03 418 L333.6 418.6 L332.25 419.39 L331 420.36 L329.85 421.5 L328.82 422.8 L327.91 424.25 L327.13 425.84 L326.48 427.57 L325.98 429.4 L325.61 431.34 L325.4 433.36 L325.33 435.45 L325.42 437.6 L325.65 439.78 L326.03 441.98 L326.55 444.18 L327.21 446.37 L328.01 448.52 L328.93 450.63 L329.98 452.67 L331.14 454.63 L332.4 456.49 L333.76 458.24 L335.2 459.86 L336.71 461.35 L338.28 462.69 L339.9 463.86 L341.56 464.87 L343.23 465.7 L344.92 466.35 L346.6 466.81 L348.27 467.07 L349.9 467.15 L351.49 467.02 L353.03 466.71 L354.5 466.2Z M352.75 462.05 L353.9 461.47 L354.97 460.75 L355.97 459.88 L356.87 458.87 L357.67 457.73 L358.37 456.47 L358.96 455.1 L359.44 453.62 L359.8 452.06 L360.04 450.42 L360.15 448.72 L360.15 446.97 L360.02 445.18 L359.76 443.36 L359.39 441.54 L358.9 439.72 L358.3 437.93 L357.59 436.16 L356.77 434.45 L355.86 432.79 L354.85 431.21 L353.77 429.72 L352.61 428.32 L351.39 427.03 L350.12 425.87 L348.8 424.82 L347.44 423.92 L346.06 423.16 L344.67 422.55 L343.27 422.09 L341.89 421.79 L340.52 421.65 L339.19 421.67 L337.89 421.85 L336.65 422.2 L335.47 422.69 L334.35 423.35 L333.32 424.15 L332.37 425.09 L331.52 426.16 L330.76 427.36 L330.12 428.68 L329.58 430.1 L329.17 431.62 L328.87 433.22 L328.69 434.9 L328.63 436.63 L328.7 438.4 L328.89 440.2 L329.21 442.02 L329.64 443.84 L330.19 445.65 L330.85 447.44 L331.61 449.18 L332.48 450.86 L333.43 452.48 L334.48 454.02 L335.6 455.47 L336.79 456.81 L338.04 458.04 L339.34 459.15 L340.68 460.12 L342.05 460.95 L343.43 461.64 L344.83 462.18 L346.22 462.56 L347.6 462.78 L348.95 462.84 L350.27 462.73 L351.54 462.47 L352.75 462.05Z" fill="#fff" fill-rule="evenodd" stroke="#111" stroke-width="0.9"/><path d="M336.67 422.19 L335.68 422.76 L334.76 423.45 L333.9 424.24 L333.11 425.15 L332.4 426.16 L331.77 427.26 L331.22 428.45 L330.77 429.72 L330.4 431.06 L330.13 432.47 L329.95 433.94 L329.86 435.45 L329.88 437 L329.99 438.58 L330.19 440.18 L330.49 441.79 L330.88 443.4 L331.37 445 L331.93 446.58 L332.59 448.13 L333.32 449.64 L334.13 451.1 L335.01 452.5 L335.95 453.84 L336.95 455.11 L338.01 456.29 L339.11 457.38 L340.25 458.38 L341.42 459.28 L342.62 460.06 L343.84 460.74 L345.07 461.3 L346.3 461.74 L347.53 462.06 L348.75 462.25 L349.95 462.32 L351.12 462.26 L352.26 462.08 L353.35 461.77" fill="none" stroke="#111" stroke-width="0.8" stroke-linejoin="round" stroke-linecap="round" /><path d="M357.77 436.6 L285.7 466.98" fill="none" stroke="#111" stroke-width="1" stroke-linejoin="round" stroke-linecap="round" /><ellipse cx="295.22" cy="462.97" rx="35" ry="23.62" transform="rotate(67.14 295.22 462.97)" fill="#fff" stroke="#111" stroke-width="1" /><path d="M299.29 499.23 L308.81 495.22 L281.62 430.72 L272.11 434.73Z" fill="#fff" stroke="none"/><path d="M299.29 499.23 L308.81 495.22" fill="none" stroke="#111" stroke-width="1" stroke-linejoin="round" stroke-linecap="round" /><path d="M272.11 434.73 L281.62 430.72" fill="none" stroke="#111" stroke-width="1" stroke-linejoin="round" stroke-linecap="round" /><path d="M279.87 487.61 L281.27 488.98 L282.71 490.26 L284.18 491.43 L285.69 492.49 L287.21 493.44 L288.76 494.27 L290.31 494.98 L291.87 495.57 L293.43 496.04 L294.98 496.37 L296.51 496.59" fill="none" stroke="#111" stroke-width="0.5" stroke-linejoin="round" stroke-linecap="round" /><path d="M299.29 499.23 L301.17 498.3 L302.91 497.11 L304.53 495.69 L306 494.05 L307.31 492.2 L308.45 490.15 L309.41 487.91 L310.18 485.51 L310.77 482.97 L311.16 480.31 L311.35 477.53 L311.33 474.68 L311.12 471.76 L310.71 468.81 L310.1 465.85 L309.31 462.89 L308.32 459.96 L307.16 457.09 L305.84 454.3 L304.35 451.61 L302.72 449.03 L300.96 446.6 L299.07 444.33 L297.08 442.23 L295.01 440.33 L292.85 438.63 L290.65 437.16 L288.4 435.92 L286.14 434.93 L283.87 434.18 L281.61 433.69 L279.39 433.47 L277.21 433.5 L275.11 433.8 L273.08 434.35 L271.16 435.17 L269.34 436.23 L267.66 437.53 L266.12 439.06 L264.73 440.81 L263.5 442.77 L262.45 444.91 L261.58 447.23 L260.9 449.7 L260.41 452.31 L260.12 455.03 L260.03 457.85 L260.15 460.73 L260.46 463.67 L260.97 466.63 L261.67 469.6 L262.56 472.54 L263.63 475.44 L264.88 478.28 L266.29 481.02 L267.85 483.66 L269.55 486.16 L271.37 488.52 L273.31 490.71 L275.35 492.71 L277.46 494.51 L279.64 496.09 L281.87 497.45 L284.13 498.57 L286.4 499.44 L288.66 500.06 L290.91 500.41 L293.11 500.51 L295.25 500.34 L297.32 499.92 L299.29 499.23Z M292.81 483.84 L293.79 483.35 L294.7 482.74 L295.55 481.99 L296.31 481.13 L297 480.17 L297.59 479.09 L298.1 477.92 L298.5 476.67 L298.81 475.34 L299.01 473.95 L299.11 472.5 L299.1 471.01 L298.99 469.48 L298.78 467.94 L298.46 466.39 L298.04 464.84 L297.53 463.31 L296.92 461.81 L296.23 460.35 L295.45 458.94 L294.6 457.6 L293.68 456.32 L292.69 455.14 L291.65 454.04 L290.57 453.04 L289.44 452.16 L288.29 451.39 L287.11 450.74 L285.93 450.22 L284.74 449.83 L283.56 449.58 L282.4 449.46 L281.26 449.48 L280.16 449.63 L279.1 449.92 L278.1 450.35 L277.15 450.9 L276.27 451.58 L275.46 452.38 L274.73 453.3 L274.09 454.32 L273.54 455.44 L273.09 456.65 L272.73 457.95 L272.48 459.31 L272.33 460.73 L272.28 462.2 L272.34 463.71 L272.5 465.25 L272.77 466.8 L273.14 468.35 L273.6 469.89 L274.16 471.4 L274.81 472.89 L275.55 474.32 L276.37 475.7 L277.25 477.01 L278.21 478.24 L279.22 479.39 L280.29 480.43 L281.39 481.37 L282.53 482.2 L283.7 482.91 L284.88 483.5 L286.07 483.95 L287.25 484.27 L288.42 484.46 L289.57 484.51 L290.69 484.42 L291.77 484.2 L292.81 483.84Z" fill="#fff" fill-rule="evenodd" stroke="#111" stroke-width="1"/><ellipse cx="285.7" cy="466.98" rx="30.3" ry="20.45" transform="rotate(67.14 285.7 466.98)" fill="none" stroke="#111" stroke-width="0.8" /><ellipse cx="285.7" cy="466.98" rx="28.8" ry="19.44" transform="rotate(67.14 285.7 466.98)" fill="none" stroke="#111" stroke-width="0.5" /><ellipse cx="285.7" cy="466.98" rx="23.6" ry="15.93" transform="rotate(67.14 285.7 466.98)" fill="none" stroke="#111" stroke-width="0.5" /><ellipse cx="285.7" cy="466.98" rx="22" ry="14.85" transform="rotate(67.14 285.7 466.98)" fill="none" stroke="#111" stroke-width="0.8" /><path d="M298.7 492.58 L300.28 491.44 L301.72 490.06 L303 488.46 L299.87 484.58 L298.82 485.9 L297.65 487.03 L296.35 487.96Z" fill="none" stroke="#111" stroke-width="0.7" stroke-linejoin="round" stroke-linecap="round" /><path d="M305.28 484.01 L305.97 481.79 L306.45 479.41 L306.74 476.92 L302.94 475.13 L302.71 477.17 L302.31 479.11 L301.74 480.94Z" fill="none" stroke="#111" stroke-width="0.7" stroke-linejoin="round" stroke-linecap="round" /><path d="M306.61 470.88 L306.22 468.16 L305.63 465.43 L304.84 462.72 L301.39 463.49 L302.03 465.71 L302.52 467.95 L302.84 470.17Z" fill="none" stroke="#111" stroke-width="0.7" stroke-linejoin="round" stroke-linecap="round" /><path d="M302.35 456.7 L300.98 454.22 L299.47 451.87 L297.82 449.66 L295.63 452.79 L296.98 454.59 L298.22 456.52 L299.34 458.55Z" fill="none" stroke="#111" stroke-width="0.7" stroke-linejoin="round" stroke-linecap="round" /><path d="M293.62 445.27 L291.65 443.7 L289.62 442.35 L287.55 441.24 L287.21 445.89 L288.91 446.8 L290.57 447.9 L292.19 449.19Z" fill="none" stroke="#111" stroke-width="0.7" stroke-linejoin="round" stroke-linecap="round" /><path d="M282.77 439.66 L280.72 439.41 L278.71 439.43 L276.78 439.72 L278.39 444.64 L279.98 444.41 L281.62 444.39 L283.3 444.6Z" fill="none" stroke="#111" stroke-width="0.7" stroke-linejoin="round" stroke-linecap="round" /><path d="M272.7 441.38 L271.12 442.52 L269.68 443.9 L268.4 445.5 L271.53 449.38 L272.58 448.06 L273.75 446.93 L275.05 446Z" fill="none" stroke="#111" stroke-width="0.7" stroke-linejoin="round" stroke-linecap="round" /><path d="M266.12 449.95 L265.43 452.17 L264.95 454.55 L264.66 457.04 L268.46 458.83 L268.69 456.79 L269.09 454.85 L269.66 453.02Z" fill="none" stroke="#111" stroke-width="0.7" stroke-linejoin="round" stroke-linecap="round" /><path d="M264.79 463.08 L265.18 465.8 L265.77 468.53 L266.56 471.24 L270.01 470.47 L269.37 468.25 L268.88 466.01 L268.56 463.79Z" fill="none" stroke="#111" stroke-width="0.7" stroke-linejoin="round" stroke-linecap="round" /><path d="M269.05 477.26 L270.42 479.74 L271.93 482.09 L273.58 484.3 L275.77 481.17 L274.42 479.37 L273.18 477.44 L272.06 475.41Z" fill="none" stroke="#111" stroke-width="0.7" stroke-linejoin="round" stroke-linecap="round" /><path d="M277.78 488.69 L279.75 490.26 L281.78 491.61 L283.85 492.72 L284.19 488.07 L282.49 487.16 L280.83 486.06 L279.21 484.77Z" fill="none" stroke="#111" stroke-width="0.7" stroke-linejoin="round" stroke-linecap="round" /><path d="M288.63 494.3 L290.68 494.55 L292.69 494.53 L294.62 494.24 L293.01 489.32 L291.42 489.55 L289.78 489.57 L288.1 489.36Z" fill="none" stroke="#111" stroke-width="0.7" stroke-linejoin="round" stroke-linecap="round" /><path d="M284 449.66 L283.59 450.34 L283.22 451.08 L282.89 451.85 L282.6 452.66 L282.36 453.51 L282.15 454.38 L282 455.29 L281.89 456.23 L281.82 457.18 L281.8 458.16 L281.82 459.15 L281.9 460.16 L282.01 461.17 L282.17 462.19 L282.38 463.22 L282.63 464.24 L282.92 465.26 L283.26 466.27 L283.63 467.27 L284.05 468.26 L284.5 469.22 L284.99 470.17 L285.52 471.09 L286.07 471.98 L286.66 472.85 L287.28 473.68 L287.93 474.47 L288.6 475.22 L289.29 475.93 L290 476.6 L290.74 477.22 L291.48 477.79 L292.24 478.31 L293.01 478.78 L293.79 479.2 L294.57 479.56 L295.35 479.86 L296.14 480.11 L296.92 480.29" fill="none" stroke="#111" stroke-width="0.8" stroke-linejoin="round" stroke-linecap="round" /><path d="M280.86 449.52 L280.19 450.11 L279.56 450.79 L278.99 451.53 L278.47 452.34 L278.01 453.22 L277.61 454.16 L277.28 455.15 L277 456.2 L276.79 457.29 L276.65 458.41 L276.58 459.58 L276.57 460.77 L276.63 461.98 L276.75 463.21 L276.95 464.45 L277.2 465.69 L277.53 466.93 L277.91 468.16 L278.36 469.37 L278.86 470.57 L279.42 471.73 L280.03 472.87 L280.69 473.96 L281.4 475.02 L282.15 476.02 L282.95 476.97 L283.77 477.86 L284.63 478.68 L285.51 479.44 L286.42 480.12 L287.35 480.74 L288.28 481.27 L289.23 481.72 L290.18 482.09 L291.13 482.37 L292.07 482.57 L293.01 482.68 L293.92 482.7 L294.82 482.64" fill="none" stroke="#111" stroke-width="0.5" stroke-linejoin="round" stroke-linecap="round" /><path d="M297.08 462.18 L230 490.46" fill="none" stroke="#111" stroke-width="1" stroke-linejoin="round" stroke-linecap="round" /><path d="M679.71 54.3 L683.1 56.01 L686.36 57.98 L689.48 60.22 L692.45 62.71 L695.26 65.45 L697.9 68.42 L700.37 71.63 L702.66 75.06 L704.76 78.7 L706.67 82.54 L708.38 86.58 L709.89 90.79 L711.19 95.18 L712.28 99.72 L713.15 104.4 L713.81 109.22 L714.25 114.15 L714.47 119.19 L714.47 124.31 L714.26 129.51 L713.82 134.77 L713.16 140.08 L712.29 145.42 L711.2 150.78 L709.9 156.13 L708.39 161.48 L706.68 166.79 L704.78 172.06 L702.68 177.28 L700.39 182.42 L697.92 187.47 L695.28 192.43 L692.47 197.26 L689.5 201.98 L686.38 206.55 L683.12 210.96 L679.73 215.21 L676.21 219.28 L672.58 223.17 L668.85 226.85 L665.02 230.32 L661.11 233.57 L657.13 236.59 L653.09 239.37 L649 241.91 L644.87 244.2 L640.72 246.23 L636.55 247.99 L632.38 249.48 L628.22 250.7 L624.08 251.64 L619.97 252.3 L615.9 252.69 L611.89 252.78 L607.95 252.6 L604.08 252.13 L600.3 251.39 L596.61 250.36 L593.04 249.06 L589.58 247.48 L586.25 245.64 L583.06 243.53 L580.02 241.17 L577.12 238.55 L574.4 235.7 L571.84 232.6 L569.46 229.29 L567.26 225.75 L565.26 222.01 L563.45 218.06 L561.84 213.94 L560.43 209.64 L559.24 205.17 L558.26 200.56 L557.49 195.81 L556.94 190.93 L556.61 185.94 L556.5 180.86 L556.61 175.7 L556.94 170.46 L557.49 165.18 L558.25 159.85 L559.23 154.5 L560.43 149.15 L561.83 143.79 L563.44 138.46 L565.25 133.17 L567.25 127.92 L569.45 122.74 L571.83 117.64 L574.38 112.64 L577.11 107.74 L580 102.96 L583.04 98.32 L586.23 93.83 L589.56 89.49 L593.02 85.33 L596.59 81.35 L600.28 77.57 L604.06 73.99 L607.93 70.63 L611.87 67.49 L615.88 64.59 L619.95 61.93 L624.06 59.51 L628.2 57.36 L632.36 55.46 L636.53 53.83 L640.7 52.47 L644.85 51.39 L648.98 50.59 L653.07 50.07 L657.11 49.83 L661.09 49.87 L665 50.2 L668.82 50.81 L672.56 51.69 L676.19 52.86 L679.71 54.3Z" fill="#fff" stroke="#111" stroke-width="1.5"/><path d="M688.94 55.21 L692.43 56.97 L695.78 59 L698.99 61.3 L702.04 63.86 L704.93 66.67 L707.65 69.73 L710.19 73.03 L712.54 76.55 L714.7 80.3 L716.67 84.25 L718.42 88.4 L719.97 92.73 L721.31 97.24 L722.43 101.91 L723.33 106.72 L724.01 111.67 L724.46 116.75 L724.69 121.92 L724.69 127.19 L724.46 132.54 L724.01 137.95 L723.33 143.41 L722.44 148.9 L721.32 154.4 L719.98 159.91 L718.43 165.4 L716.68 170.87 L714.71 176.29 L712.56 181.65 L710.2 186.93 L707.66 192.13 L704.95 197.22 L702.06 202.2 L699.01 207.04 L695.8 211.74 L692.45 216.28 L688.96 220.65 L685.34 224.84 L681.61 228.83 L677.77 232.61 L673.84 236.18 L669.82 239.53 L665.73 242.63 L661.58 245.49 L657.37 248.1 L653.13 250.45 L648.86 252.54 L644.57 254.35 L640.29 255.89 L636.01 257.14 L631.75 258.11 L627.52 258.79 L623.34 259.18 L619.22 259.28 L615.16 259.09 L611.18 258.61 L607.29 257.84 L603.51 256.79 L599.83 255.45 L596.28 253.83 L592.86 251.93 L589.57 249.77 L586.44 247.34 L583.47 244.65 L580.67 241.71 L578.04 238.53 L575.59 235.12 L573.33 231.49 L571.27 227.64 L569.41 223.58 L567.75 219.34 L566.31 214.92 L565.08 210.33 L564.07 205.58 L563.28 200.7 L562.72 195.69 L562.38 190.56 L562.26 185.33 L562.38 180.02 L562.72 174.64 L563.28 169.21 L564.07 163.73 L565.08 158.23 L566.3 152.73 L567.74 147.22 L569.4 141.74 L571.26 136.3 L573.32 130.91 L575.58 125.58 L578.02 120.34 L580.65 115.19 L583.46 110.15 L586.43 105.24 L589.56 100.47 L592.84 95.85 L596.26 91.39 L599.81 87.11 L603.49 83.02 L607.27 79.13 L611.16 75.46 L615.14 72 L619.2 68.77 L623.32 65.79 L627.5 63.05 L631.73 60.57 L635.98 58.35 L640.26 56.4 L644.55 54.73 L648.83 53.33 L653.1 52.22 L657.35 51.4 L661.55 50.86 L665.71 50.61 L669.8 50.66 L673.82 50.99 L677.75 51.62 L681.59 52.53 L685.32 53.73 L688.94 55.21Z" fill="#fff" stroke="none"/><path d="M667.85 80.32 L670.33 81.57 L672.72 83.02 L675 84.66 L677.17 86.48 L679.23 88.48 L681.16 90.66 L682.97 93 L684.64 95.51 L686.18 98.18 L687.58 100.99 L688.83 103.94 L689.93 107.03 L690.88 110.23 L691.68 113.56 L692.32 116.98 L692.8 120.51 L693.12 124.12 L693.29 127.8 L693.29 131.55 L693.13 135.36 L692.8 139.21 L692.32 143.09 L691.68 147 L690.89 150.92 L689.94 154.84 L688.84 158.75 L687.59 162.63 L686.19 166.49 L684.65 170.31 L682.98 174.07 L681.17 177.77 L679.24 181.39 L677.18 184.93 L675.01 188.38 L672.73 191.72 L670.34 194.96 L667.86 198.06 L665.29 201.04 L662.63 203.88 L659.9 206.58 L657.1 209.12 L654.24 211.5 L651.33 213.71 L648.37 215.74 L645.38 217.6 L642.36 219.27 L639.32 220.76 L636.27 222.05 L633.22 223.14 L630.17 224.03 L627.14 224.72 L624.14 225.21 L621.16 225.48 L618.23 225.56 L615.34 225.42 L612.51 225.08 L609.74 224.53 L607.05 223.78 L604.43 222.83 L601.9 221.68 L599.46 220.33 L597.13 218.79 L594.9 217.06 L592.79 215.14 L590.79 213.05 L588.92 210.79 L587.18 208.36 L585.57 205.77 L584.1 203.04 L582.78 200.15 L581.6 197.13 L580.57 193.98 L579.7 190.72 L578.98 187.34 L578.42 183.87 L578.02 180.3 L577.77 176.65 L577.69 172.93 L577.77 169.15 L578.01 165.32 L578.42 161.45 L578.98 157.56 L579.69 153.64 L580.57 149.72 L581.59 145.81 L582.77 141.91 L584.09 138.03 L585.56 134.2 L587.17 130.41 L588.91 126.67 L590.78 123.01 L592.77 119.43 L594.89 115.93 L597.12 112.53 L599.45 109.25 L601.89 106.07 L604.42 103.03 L607.03 100.12 L609.73 97.35 L612.49 94.73 L615.32 92.27 L618.21 89.98 L621.15 87.85 L624.12 85.9 L627.13 84.14 L630.16 82.56 L633.2 81.17 L636.25 79.98 L639.3 78.99 L642.34 78.2 L645.36 77.61 L648.35 77.23 L651.31 77.05 L654.22 77.08 L657.08 77.32 L659.88 77.77 L662.62 78.42 L665.27 79.27 L667.85 80.32Z M655.34 102.43 L657.02 103.27 L658.63 104.25 L660.17 105.35 L661.64 106.59 L663.03 107.94 L664.34 109.41 L665.56 110.99 L666.69 112.69 L667.73 114.49 L668.67 116.39 L669.52 118.38 L670.26 120.47 L670.91 122.64 L671.44 124.88 L671.88 127.2 L672.2 129.58 L672.42 132.02 L672.53 134.51 L672.53 137.04 L672.42 139.61 L672.2 142.21 L671.88 144.84 L671.45 147.48 L670.91 150.12 L670.27 152.77 L669.52 155.41 L668.68 158.04 L667.73 160.65 L666.7 163.22 L665.56 165.77 L664.34 168.26 L663.04 170.71 L661.65 173.11 L660.18 175.43 L658.64 177.69 L657.03 179.88 L655.35 181.98 L653.61 183.99 L651.82 185.91 L649.97 187.73 L648.08 189.45 L646.15 191.05 L644.18 192.55 L642.18 193.92 L640.16 195.18 L638.12 196.31 L636.07 197.31 L634.01 198.18 L631.95 198.92 L629.89 199.52 L627.84 199.99 L625.81 200.32 L623.8 200.5 L621.82 200.55 L619.86 200.46 L617.95 200.23 L616.08 199.86 L614.26 199.35 L612.49 198.71 L610.78 197.93 L609.14 197.02 L607.56 195.98 L606.06 194.81 L604.63 193.52 L603.28 192.11 L602.01 190.58 L600.84 188.94 L599.75 187.19 L598.76 185.34 L597.86 183.39 L597.07 181.35 L596.37 179.22 L595.78 177.01 L595.3 174.73 L594.92 172.38 L594.65 169.97 L594.48 167.51 L594.43 165 L594.48 162.44 L594.65 159.86 L594.92 157.24 L595.3 154.61 L595.78 151.97 L596.37 149.32 L597.06 146.67 L597.86 144.04 L598.75 141.42 L599.75 138.83 L600.83 136.26 L602.01 133.74 L603.27 131.27 L604.62 128.85 L606.05 126.49 L607.55 124.19 L609.13 121.97 L610.78 119.83 L612.48 117.77 L614.25 115.8 L616.07 113.93 L617.94 112.16 L619.85 110.5 L621.8 108.95 L623.79 107.51 L625.8 106.2 L627.83 105 L629.88 103.94 L631.93 103 L634 102.2 L636.06 101.53 L638.11 100.99 L640.15 100.59 L642.17 100.34 L644.17 100.22 L646.14 100.24 L648.07 100.4 L649.96 100.7 L651.81 101.14 L653.6 101.72 L655.34 102.43Z" fill="#fff" fill-rule="evenodd" stroke="none"/><path d="M660.74 83.29 L663.42 83.19 L666.05 83.27 L668.64 83.53 L671.18 83.95 L673.66 84.55 L676.08 85.31 L678.43 86.25 L680.7 87.35 L682.89 88.61 L685 90.03 L687.02 91.61 L688.95 93.35 L690.77 95.23 L692.5 97.26 L694.11 99.43 L695.61 101.73 L697 104.16 L698.27 106.72 L699.42 109.39 L700.44 112.17 L701.34 115.06 L702.11 118.05 L702.75 121.13 L703.25 124.29 L703.63 127.53 L703.87 130.83 L703.97 134.2 L703.94 137.62 L703.78 141.08 L703.48 144.58 L703.05 148.11 L702.48 151.66 L701.79 155.22 L700.96 158.78 L700.01 162.34 L698.93 165.88 L697.73 169.4 L696.41 172.89 L694.97 176.35 L693.42 179.75 L691.76 183.1 L689.99 186.39 L688.12 189.61 L686.15 192.74 L684.09 195.8 L681.95 198.76 L679.72 201.62 L677.41 204.37 L675.03 207.01 L672.58 209.53 L670.08 211.93 L667.52 214.2 L664.91 216.33 L662.25 218.31 L659.57 220.16 L656.85 221.85 L654.11 223.38 L651.35 224.76 L648.58 225.98 L645.8 227.03 L643.03 227.92 L640.27 228.64 L637.53 229.19 L634.8 229.56 L632.11 229.77 L629.45 229.8 L626.83 229.66 L624.26 229.34 L621.74 228.86 L619.28 228.2 L616.89 227.37 L614.57 226.38 L612.32 225.22 L610.16 223.89 L608.08 222.41 L606.09 220.78 L604.2 218.99 L602.42 217.05 L600.73 214.97" fill="none" stroke="#111" stroke-width="0.6" stroke-linejoin="round" stroke-linecap="round" /><path d="M655.5 84 L658.07 83.91 L660.61 83.98 L663.09 84.23 L665.53 84.64 L667.92 85.21 L670.24 85.94 L672.5 86.84 L674.68 87.9 L676.79 89.11 L678.82 90.48 L680.76 92 L682.61 93.67 L684.37 95.48 L686.02 97.43 L687.57 99.51 L689.02 101.72 L690.35 104.06 L691.57 106.52 L692.67 109.08 L693.66 111.76 L694.52 114.54 L695.26 117.41 L695.87 120.37 L696.36 123.4 L696.72 126.51 L696.95 129.69 L697.05 132.93 L697.02 136.21 L696.86 139.54 L696.58 142.91 L696.16 146.3 L695.62 149.71 L694.95 153.13 L694.16 156.55 L693.24 159.97 L692.21 163.37 L691.05 166.76 L689.78 170.11 L688.4 173.43 L686.91 176.7 L685.31 179.92 L683.61 183.08 L681.82 186.17 L679.93 189.19 L677.95 192.12 L675.88 194.97 L673.74 197.72 L671.52 200.37 L669.24 202.9 L666.88 205.33 L664.48 207.63 L662.01 209.81 L659.51 211.85 L656.96 213.76 L654.37 215.53 L651.76 217.16 L649.13 218.64 L646.47 219.96 L643.81 221.13 L641.15 222.14 L638.49 223 L635.83 223.69 L633.19 224.21 L630.57 224.58 L627.98 224.77 L625.43 224.8 L622.91 224.67 L620.44 224.36 L618.02 223.89 L615.66 223.26 L613.36 222.47 L611.13 221.51 L608.97 220.4 L606.89 219.13 L604.89 217.7 L602.98 216.13 L601.17 214.41 L599.45 212.55 L597.83 210.55" fill="none" stroke="#111" stroke-width="0.6" stroke-linejoin="round" stroke-linecap="round" /><path d="M648.83 84.57 L651.28 84.49 L653.69 84.56 L656.06 84.79 L658.39 85.18 L660.66 85.73 L662.87 86.43 L665.02 87.28 L667.11 88.29 L669.11 89.45 L671.05 90.75 L672.9 92.2 L674.66 93.78 L676.33 95.51 L677.91 97.36 L679.38 99.35 L680.76 101.46 L682.03 103.68 L683.19 106.02 L684.24 108.47 L685.18 111.02 L686 113.67 L686.71 116.4 L687.29 119.22 L687.76 122.11 L688.1 125.08 L688.32 128.1 L688.41 131.19 L688.39 134.32 L688.24 137.49 L687.96 140.69 L687.57 143.92 L687.05 147.17 L686.41 150.43 L685.66 153.69 L684.79 156.95 L683.8 160.19 L682.7 163.42 L681.49 166.61 L680.17 169.78 L678.75 172.89 L677.23 175.96 L675.61 178.97 L673.9 181.92 L672.1 184.79 L670.21 187.59 L668.25 190.3 L666.21 192.91 L664.09 195.44 L661.91 197.85 L659.68 200.16 L657.38 202.36 L655.04 204.43 L652.65 206.38 L650.22 208.2 L647.76 209.89 L645.27 211.43 L642.76 212.84 L640.23 214.11 L637.69 215.22 L635.16 216.18 L632.62 217 L630.09 217.66 L627.58 218.16 L625.08 218.5 L622.62 218.69 L620.18 218.72 L617.78 218.59 L615.43 218.3 L613.12 217.85 L610.87 217.25 L608.68 216.49 L606.55 215.58 L604.5 214.52 L602.52 213.31 L600.61 211.95 L598.8 210.45 L597.07 208.82 L595.43 207.04 L593.89 205.14" fill="none" stroke="#111" stroke-width="0.6" stroke-linejoin="round" stroke-linecap="round" /><path d="M655.34 102.43 L657.02 103.27 L658.63 104.25 L660.17 105.35 L661.64 106.59 L663.03 107.94 L664.34 109.41 L665.56 110.99 L666.69 112.69 L667.73 114.49 L668.67 116.39 L669.52 118.38 L670.26 120.47 L670.91 122.64 L671.44 124.88 L671.88 127.2 L672.2 129.58 L672.42 132.02 L672.53 134.51 L672.53 137.04 L672.42 139.61 L672.2 142.21 L671.88 144.84 L671.45 147.48 L670.91 150.12 L670.27 152.77 L669.52 155.41 L668.68 158.04 L667.73 160.65 L666.7 163.22 L665.56 165.77 L664.34 168.26 L663.04 170.71 L661.65 173.11 L660.18 175.43 L658.64 177.69 L657.03 179.88 L655.35 181.98 L653.61 183.99 L651.82 185.91 L649.97 187.73 L648.08 189.45 L646.15 191.05 L644.18 192.55 L642.18 193.92 L640.16 195.18 L638.12 196.31 L636.07 197.31 L634.01 198.18 L631.95 198.92 L629.89 199.52 L627.84 199.99 L625.81 200.32 L623.8 200.5 L621.82 200.55 L619.86 200.46 L617.95 200.23 L616.08 199.86 L614.26 199.35 L612.49 198.71 L610.78 197.93 L609.14 197.02 L607.56 195.98 L606.06 194.81 L604.63 193.52 L603.28 192.11 L602.01 190.58 L600.84 188.94 L599.75 187.19 L598.76 185.34 L597.86 183.39 L597.07 181.35 L596.37 179.22 L595.78 177.01 L595.3 174.73 L594.92 172.38 L594.65 169.97 L594.48 167.51 L594.43 165 L594.48 162.44 L594.65 159.86 L594.92 157.24 L595.3 154.61 L595.78 151.97 L596.37 149.32 L597.06 146.67 L597.86 144.04 L598.75 141.42 L599.75 138.83 L600.83 136.26 L602.01 133.74 L603.27 131.27 L604.62 128.85 L606.05 126.49 L607.55 124.19 L609.13 121.97 L610.78 119.83 L612.48 117.77 L614.25 115.8 L616.07 113.93 L617.94 112.16 L619.85 110.5 L621.8 108.95 L623.79 107.51 L625.8 106.2 L627.83 105 L629.88 103.94 L631.93 103 L634 102.2 L636.06 101.53 L638.11 100.99 L640.15 100.59 L642.17 100.34 L644.17 100.22 L646.14 100.24 L648.07 100.4 L649.96 100.7 L651.81 101.14 L653.6 101.72 L655.34 102.43Z" fill="none" stroke="#111" stroke-width="1.5"/><path d="M656.93 105.13 L658.04 106.35 L659.08 107.66 L660.07 109.04 L660.99 110.5 L661.84 112.03 L662.63 113.64 L663.35 115.31 L663.99 117.04 L664.57 118.84 L665.07 120.69 L665.5 122.59 L665.85 124.54 L666.13 126.54 L666.33 128.58 L666.45 130.66 L666.5 132.77 L666.47 134.91 L666.36 137.08 L666.18 139.26 L665.92 141.47 L665.59 143.68 L665.18 145.9 L664.69 148.13 L664.13 150.36 L663.5 152.57 L662.8 154.78 L662.03 156.98 L661.19 159.16 L660.29 161.31 L659.32 163.44 L658.29 165.54 L657.19 167.6 L656.04 169.62 L654.83 171.6 L653.57 173.53 L652.26 175.41 L650.9 177.24 L649.49 179 L648.04 180.71 L646.54 182.35 L645.01 183.92 L643.45 185.42 L641.85 186.85 L640.23 188.2 L638.58 189.47 L636.91 190.66 L635.22 191.76 L633.51 192.77 L631.8 193.7 L630.07 194.54 L628.34 195.28 L626.61 195.93 L624.87 196.48 L623.15 196.94 L621.43 197.3 L619.72 197.57 L618.03 197.73 L616.36 197.8 L614.71 197.77" fill="none" stroke="#111" stroke-width="0.6" stroke-linejoin="round" stroke-linecap="round" /><path d="M664.13 86.66 L665.12 87.38 L665.84 88.5 L666.22 89.92 L666.25 91.54 L665.92 93.25 L665.25 94.92 L664.29 96.42 L663.12 97.64 L661.83 98.49 L660.5 98.91 L659.23 98.87 L658.13 98.37 L657.27 97.44 L656.71 96.16 L656.5 94.62 L656.65 92.94 L657.16 91.23 L657.98 89.64 L659.05 88.26 L660.3 87.22 L661.62 86.58 L662.93 86.39 L664.13 86.66Z" fill="#fff" stroke="#111" stroke-width="0.8"/><path d="M663.35 86.74 L663.88 87.7 L664.2 88.86 L664.28 90.16 L664.11 91.54 L663.72 92.93 L663.11 94.26 L662.32 95.47 L661.39 96.49 L660.36 97.28 L659.28 97.81 L658.2 98.03" fill="none" stroke="#111" stroke-width="0.5" stroke-linejoin="round" stroke-linecap="round" /><path d="M680.57 102.98 L681.57 103.7 L682.28 104.81 L682.67 106.23 L682.7 107.86 L682.36 109.57 L681.69 111.24 L680.74 112.74 L679.57 113.96 L678.27 114.81 L676.94 115.23 L675.68 115.18 L674.57 114.68 L673.71 113.76 L673.16 112.48 L672.95 110.94 L673.1 109.25 L673.61 107.55 L674.42 105.95 L675.5 104.58 L676.74 103.53 L678.07 102.89 L679.38 102.7 L680.57 102.98Z" fill="#fff" stroke="#111" stroke-width="0.8"/><path d="M679.79 103.06 L680.33 104.02 L680.64 105.18 L680.72 106.47 L680.56 107.85 L680.17 109.24 L679.56 110.57 L678.77 111.78 L677.84 112.81 L676.8 113.6 L675.72 114.12 L674.65 114.35" fill="none" stroke="#111" stroke-width="0.5" stroke-linejoin="round" stroke-linecap="round" /><path d="M685.68 130.63 L686.67 131.35 L687.38 132.47 L687.77 133.89 L687.8 135.52 L687.46 137.23 L686.8 138.89 L685.84 140.39 L684.67 141.61 L683.37 142.46 L682.04 142.88 L680.78 142.84 L679.68 142.34 L678.81 141.41 L678.26 140.13 L678.05 138.59 L678.2 136.91 L678.71 135.21 L679.53 133.61 L680.6 132.24 L681.84 131.19 L683.17 130.55 L684.48 130.36 L685.68 130.63Z" fill="#fff" stroke="#111" stroke-width="0.8"/><path d="M684.9 130.71 L685.43 131.67 L685.75 132.83 L685.82 134.13 L685.66 135.51 L685.27 136.9 L684.66 138.23 L683.87 139.44 L682.94 140.46 L681.91 141.26 L680.83 141.78 L679.75 142" fill="none" stroke="#111" stroke-width="0.5" stroke-linejoin="round" stroke-linecap="round" /><path d="M678.07 162.22 L679.06 162.94 L679.77 164.05 L680.16 165.47 L680.19 167.1 L679.86 168.81 L679.19 170.48 L678.23 171.97 L677.06 173.19 L675.76 174.05 L674.43 174.47 L673.17 174.42 L672.07 173.92 L671.2 172.99 L670.65 171.71 L670.44 170.18 L670.59 168.49 L671.1 166.79 L671.92 165.19 L672.99 163.82 L674.24 162.77 L675.56 162.13 L676.87 161.94 L678.07 162.22Z" fill="#fff" stroke="#111" stroke-width="0.8"/><path d="M677.29 162.3 L677.82 163.26 L678.14 164.41 L678.22 165.71 L678.05 167.09 L677.66 168.48 L677.05 169.81 L676.26 171.02 L675.33 172.05 L674.3 172.84 L673.22 173.36 L672.14 173.59" fill="none" stroke="#111" stroke-width="0.5" stroke-linejoin="round" stroke-linecap="round" /><path d="M659.79 189.27 L660.78 189.99 L661.49 191.1 L661.88 192.52 L661.91 194.15 L661.57 195.86 L660.91 197.52 L659.95 199.02 L658.78 200.24 L657.48 201.1 L656.15 201.52 L654.89 201.47 L653.78 200.97 L652.92 200.04 L652.37 198.76 L652.16 197.23 L652.31 195.54 L652.82 193.84 L653.64 192.24 L654.71 190.87 L655.95 189.82 L657.28 189.18 L658.59 188.99 L659.79 189.27Z" fill="#fff" stroke="#111" stroke-width="0.8"/><path d="M659 189.35 L659.54 190.31 L659.86 191.46 L659.93 192.76 L659.77 194.14 L659.38 195.53 L658.77 196.86 L657.98 198.07 L657.05 199.1 L656.02 199.89 L654.94 200.41 L653.86 200.63" fill="none" stroke="#111" stroke-width="0.5" stroke-linejoin="round" stroke-linecap="round" /><path d="M635.73 204.53 L636.72 205.25 L637.44 206.37 L637.82 207.79 L637.85 209.42 L637.52 211.13 L636.85 212.79 L635.9 214.29 L634.73 215.51 L633.43 216.36 L632.1 216.78 L630.83 216.74 L629.73 216.24 L628.87 215.31 L628.31 214.03 L628.1 212.49 L628.26 210.81 L628.76 209.11 L629.58 207.51 L630.65 206.14 L631.9 205.09 L633.23 204.45 L634.53 204.26 L635.73 204.53Z" fill="#fff" stroke="#111" stroke-width="0.8"/><path d="M634.95 204.61 L635.49 205.57 L635.8 206.73 L635.88 208.03 L635.72 209.41 L635.32 210.8 L634.72 212.13 L633.93 213.34 L632.99 214.36 L631.96 215.16 L630.88 215.68 L629.81 215.9" fill="none" stroke="#111" stroke-width="0.5" stroke-linejoin="round" stroke-linecap="round" /><path d="M612.35 203.93 L613.34 204.65 L614.05 205.76 L614.44 207.18 L614.47 208.81 L614.14 210.52 L613.47 212.19 L612.51 213.68 L611.34 214.91 L610.04 215.76 L608.71 216.18 L607.45 216.13 L606.35 215.63 L605.48 214.71 L604.93 213.43 L604.72 211.89 L604.87 210.2 L605.38 208.5 L606.2 206.9 L607.27 205.53 L608.51 204.48 L609.84 203.84 L611.15 203.65 L612.35 203.93Z" fill="#fff" stroke="#111" stroke-width="0.8"/><path d="M611.57 204.01 L612.1 204.97 L612.42 206.12 L612.5 207.42 L612.33 208.8 L611.94 210.19 L611.33 211.52 L610.54 212.73 L609.61 213.76 L608.58 214.55 L607.5 215.07 L606.42 215.3" fill="none" stroke="#111" stroke-width="0.5" stroke-linejoin="round" stroke-linecap="round" /><path d="M595.9 187.61 L596.89 188.33 L597.61 189.44 L597.99 190.87 L598.02 192.49 L597.69 194.2 L597.02 195.87 L596.07 197.37 L594.9 198.59 L593.6 199.44 L592.27 199.86 L591 199.82 L589.9 199.31 L589.04 198.39 L588.48 197.11 L588.27 195.57 L588.43 193.89 L588.93 192.18 L589.75 190.59 L590.82 189.21 L592.07 188.17 L593.4 187.53 L594.7 187.33 L595.9 187.61Z" fill="#fff" stroke="#111" stroke-width="0.8"/><path d="M595.12 187.69 L595.66 188.65 L595.97 189.81 L596.05 191.11 L595.89 192.49 L595.49 193.87 L594.89 195.21 L594.1 196.41 L593.16 197.44 L592.13 198.23 L591.05 198.76 L589.98 198.98" fill="none" stroke="#111" stroke-width="0.5" stroke-linejoin="round" stroke-linecap="round" /><path d="M590.8 159.96 L591.79 160.68 L592.51 161.79 L592.89 163.21 L592.92 164.84 L592.59 166.55 L591.92 168.21 L590.96 169.71 L589.79 170.93 L588.5 171.79 L587.17 172.21 L585.9 172.16 L584.8 171.66 L583.94 170.73 L583.38 169.45 L583.17 167.92 L583.32 166.23 L583.83 164.53 L584.65 162.93 L585.72 161.56 L586.97 160.51 L588.29 159.87 L589.6 159.68 L590.8 159.96Z" fill="#fff" stroke="#111" stroke-width="0.8"/><path d="M590.02 160.04 L590.55 161 L590.87 162.15 L590.95 163.45 L590.79 164.83 L590.39 166.22 L589.78 167.55 L588.99 168.76 L588.06 169.79 L587.03 170.58 L585.95 171.1 L584.87 171.32" fill="none" stroke="#111" stroke-width="0.5" stroke-linejoin="round" stroke-linecap="round" /><path d="M598.41 128.37 L599.4 129.09 L600.12 130.21 L600.5 131.63 L600.53 133.26 L600.2 134.96 L599.53 136.63 L598.57 138.13 L597.4 139.35 L596.11 140.2 L594.78 140.62 L593.51 140.58 L592.41 140.08 L591.54 139.15 L590.99 137.87 L590.78 136.33 L590.93 134.65 L591.44 132.94 L592.26 131.35 L593.33 129.97 L594.58 128.93 L595.9 128.29 L597.21 128.1 L598.41 128.37Z" fill="#fff" stroke="#111" stroke-width="0.8"/><path d="M597.63 128.45 L598.16 129.41 L598.48 130.57 L598.56 131.87 L598.39 133.25 L598 134.64 L597.39 135.97 L596.6 137.18 L595.67 138.2 L594.64 139 L593.56 139.52 L592.48 139.74" fill="none" stroke="#111" stroke-width="0.5" stroke-linejoin="round" stroke-linecap="round" /><path d="M616.69 101.32 L617.68 102.04 L618.4 103.16 L618.78 104.58 L618.81 106.21 L618.48 107.92 L617.81 109.58 L616.86 111.08 L615.69 112.3 L614.39 113.15 L613.06 113.57 L611.79 113.53 L610.69 113.03 L609.83 112.1 L609.27 110.82 L609.06 109.28 L609.22 107.6 L609.72 105.9 L610.54 104.3 L611.61 102.93 L612.86 101.88 L614.18 101.24 L615.49 101.05 L616.69 101.32Z" fill="#fff" stroke="#111" stroke-width="0.8"/><path d="M615.91 101.4 L616.44 102.36 L616.76 103.52 L616.84 104.82 L616.68 106.2 L616.28 107.59 L615.68 108.92 L614.89 110.13 L613.95 111.15 L612.92 111.95 L611.84 112.47 L610.76 112.69" fill="none" stroke="#111" stroke-width="0.5" stroke-linejoin="round" stroke-linecap="round" /><path d="M640.74 86.06 L641.74 86.78 L642.45 87.89 L642.84 89.31 L642.87 90.94 L642.53 92.65 L641.86 94.31 L640.91 95.81 L639.74 97.03 L638.44 97.89 L637.11 98.31 L635.85 98.26 L634.74 97.76 L633.88 96.83 L633.33 95.55 L633.12 94.02 L633.27 92.33 L633.78 90.63 L634.59 89.03 L635.67 87.66 L636.91 86.61 L638.24 85.97 L639.55 85.78 L640.74 86.06Z" fill="#fff" stroke="#111" stroke-width="0.8"/><path d="M639.96 86.14 L640.5 87.1 L640.81 88.25 L640.89 89.55 L640.73 90.93 L640.34 92.32 L639.73 93.65 L638.94 94.86 L638.01 95.89 L636.97 96.68 L635.89 97.2 L634.82 97.42" fill="none" stroke="#111" stroke-width="0.5" stroke-linejoin="round" stroke-linecap="round" /><clipPath id="gclip"><path d="M698.03 56.61 L701.6 58.4 L705.03 60.48 L708.31 62.83 L711.43 65.45 L714.39 68.33 L717.17 71.46 L719.77 74.83 L722.17 78.44 L724.38 82.26 L726.39 86.31 L728.19 90.55 L729.78 94.98 L731.14 99.59 L732.29 104.37 L733.21 109.29 L733.9 114.36 L734.36 119.55 L734.6 124.84 L734.6 130.23 L734.36 135.7 L733.9 141.23 L733.21 146.81 L732.29 152.43 L731.15 158.06 L729.78 163.69 L728.2 169.31 L726.4 174.9 L724.4 180.45 L722.19 185.93 L719.78 191.34 L717.18 196.65 L714.41 201.86 L711.45 206.95 L708.33 211.9 L705.05 216.71 L701.62 221.35 L698.05 225.82 L694.36 230.1 L690.54 234.19 L686.61 238.06 L682.59 241.71 L678.48 245.13 L674.29 248.3 L670.04 251.23 L665.74 253.9 L661.4 256.3 L657.04 258.44 L652.65 260.29 L648.27 261.86 L643.89 263.14 L639.54 264.13 L635.22 264.83 L630.94 265.23 L626.72 265.33 L622.57 265.14 L618.5 264.65 L614.53 263.86 L610.65 262.78 L606.89 261.41 L603.26 259.76 L599.76 257.82 L596.4 255.6 L593.2 253.12 L590.16 250.37 L587.29 247.36 L584.6 244.11 L582.1 240.62 L579.79 236.9 L577.68 232.97 L575.77 228.82 L574.08 224.48 L572.61 219.96 L571.35 215.26 L570.32 210.41 L569.51 205.41 L568.93 200.29 L568.58 195.04 L568.47 189.7 L568.58 184.27 L568.93 178.77 L569.51 173.21 L570.31 167.61 L571.34 161.98 L572.6 156.35 L574.07 150.72 L575.76 145.11 L577.67 139.54 L579.78 134.03 L582.08 128.58 L584.59 123.22 L587.27 117.96 L590.14 112.8 L593.18 107.78 L596.38 102.9 L599.74 98.17 L603.24 93.62 L606.87 89.24 L610.63 85.06 L614.5 81.08 L618.48 77.31 L622.55 73.78 L626.7 70.48 L630.92 67.43 L635.19 64.63 L639.51 62.09 L643.87 59.82 L648.24 57.83 L652.63 56.12 L657.01 54.69 L661.38 53.55 L665.72 52.71 L670.02 52.16 L674.27 51.91 L678.46 51.95 L682.57 52.29 L686.59 52.93 L690.52 53.87 L694.33 55.09 L698.03 56.61Z"/></clipPath><g clip-path="url(#gclip)"><path d="M718.79 192.64 L701.37 183.65 L692.78 181.07 L709.97 190.54Z" fill="#fff" stroke="#111" stroke-width="0.9" stroke-linejoin="round"/><path d="M723.46 181.93 L704.59 176.26 L696.97 171.46 L716.03 176.63Z" fill="#fff" stroke="#111" stroke-width="0.9" stroke-linejoin="round"/><path d="M723.46 181.93 L718.79 192.64 L701.37 183.65 L704.59 176.26Z" fill="#fff" stroke="#111" stroke-width="0.9" stroke-linejoin="round"/><path d="M696.97 171.46 L704.59 176.26 L701.37 183.65 L692.78 181.07Z" fill="#fff" stroke="#111" stroke-width="0.9" stroke-linejoin="round"/><path d="M716.56 197.12 L699.83 186.74 L692.32 181.99 L709.3 191.89Z" fill="#fff" stroke="#111" stroke-width="0.9" stroke-linejoin="round"/><path d="M710.86 207.26 L695.9 193.74 L687.21 191.09 L701.9 205.07Z" fill="#fff" stroke="#111" stroke-width="0.9" stroke-linejoin="round"/><path d="M716.56 197.12 L710.86 207.26 L695.9 193.74 L699.83 186.74Z" fill="#fff" stroke="#111" stroke-width="0.9" stroke-linejoin="round"/><path d="M692.32 181.99 L699.83 186.74 L695.9 193.74 L687.21 191.09Z" fill="#fff" stroke="#111" stroke-width="0.9" stroke-linejoin="round"/><path d="M728.74 166.22 L708.23 165.42 L700.49 160.6 L721.14 160.88Z" fill="#fff" stroke="#111" stroke-width="0.9" stroke-linejoin="round"/><path d="M728.74 166.22 L725.22 177.26 L705.8 173.04 L708.23 165.42Z" fill="#fff" stroke="#111" stroke-width="0.9" stroke-linejoin="round"/><path d="M700.49 160.6 L708.23 165.42 L705.8 173.04 L697.33 170.5Z" fill="#fff" stroke="#111" stroke-width="0.9" stroke-linejoin="round"/><path d="M701.61 220.79 L689.51 203.08 L680.74 200.33 L692.51 218.47Z" fill="#fff" stroke="#111" stroke-width="0.9" stroke-linejoin="round"/><path d="M708.22 211.45 L701.61 220.79 L689.51 203.08 L694.07 196.63Z" fill="#fff" stroke="#111" stroke-width="0.9" stroke-linejoin="round"/><path d="M686.66 191.95 L694.07 196.63 L689.51 203.08 L680.74 200.33Z" fill="#fff" stroke="#111" stroke-width="0.9" stroke-linejoin="round"/><path d="M732.31 150.34 L710.69 154.47 L702.82 149.65 L724.52 145.01Z" fill="#fff" stroke="#111" stroke-width="0.9" stroke-linejoin="round"/><path d="M732.31 150.34 L730 161.46 L709.1 162.14 L710.69 154.47Z" fill="#fff" stroke="#111" stroke-width="0.9" stroke-linejoin="round"/><path d="M702.82 149.65 L710.69 154.47 L709.1 162.14 L700.75 159.62Z" fill="#fff" stroke="#111" stroke-width="0.9" stroke-linejoin="round"/><path d="M691.24 232.94 L682.36 211.46 L673.51 208.6 L682.04 230.45Z" fill="#fff" stroke="#111" stroke-width="0.9" stroke-linejoin="round"/><path d="M698.61 224.6 L691.24 232.94 L682.36 211.46 L687.44 205.7Z" fill="#fff" stroke="#111" stroke-width="0.9" stroke-linejoin="round"/><path d="M680.12 201.12 L687.44 205.7 L682.36 211.46 L673.51 208.6Z" fill="#fff" stroke="#111" stroke-width="0.9" stroke-linejoin="round"/><path d="M734.06 134.65 L711.9 143.64 L703.9 138.85 L726.08 129.35Z" fill="#fff" stroke="#111" stroke-width="0.9" stroke-linejoin="round"/><path d="M734.06 134.65 L733.02 145.6 L711.19 151.19 L711.9 143.64Z" fill="#fff" stroke="#111" stroke-width="0.9" stroke-linejoin="round"/><path d="M703.9 138.85 L711.9 143.64 L711.19 151.19 L702.97 148.67Z" fill="#fff" stroke="#111" stroke-width="0.9" stroke-linejoin="round"/><path d="M679.98 243.43 L674.59 218.69 L665.69 215.71 L670.7 240.75Z" fill="#fff" stroke="#111" stroke-width="0.9" stroke-linejoin="round"/><path d="M687.95 236.27 L679.98 243.43 L674.59 218.69 L680.08 213.75Z" fill="#fff" stroke="#111" stroke-width="0.9" stroke-linejoin="round"/><path d="M672.83 209.29 L680.08 213.75 L674.59 218.69 L665.69 215.71Z" fill="#fff" stroke="#111" stroke-width="0.9" stroke-linejoin="round"/><path d="M733.98 119.49 L711.85 133.18 L703.71 128.44 L725.81 114.27Z" fill="#fff" stroke="#111" stroke-width="0.9" stroke-linejoin="round"/><path d="M733.98 119.49 L734.23 130.03 L712.02 140.45 L711.85 133.18Z" fill="#fff" stroke="#111" stroke-width="0.9" stroke-linejoin="round"/><path d="M703.71 128.44 L711.85 133.18 L712.02 140.45 L703.94 137.89Z" fill="#fff" stroke="#111" stroke-width="0.9" stroke-linejoin="round"/><path d="M668.09 252.02 L666.38 224.62 L657.45 221.49 L658.76 249.13Z" fill="#fff" stroke="#111" stroke-width="0.9" stroke-linejoin="round"/><path d="M676.47 246.21 L668.09 252.02 L666.38 224.62 L672.17 220.61Z" fill="#fff" stroke="#111" stroke-width="0.9" stroke-linejoin="round"/><path d="M664.96 216.28 L672.17 220.61 L666.38 224.62 L657.45 221.49Z" fill="#fff" stroke="#111" stroke-width="0.9" stroke-linejoin="round"/><path d="M732.05 105.2 L710.52 123.32 L702.25 118.66 L723.69 100.09Z" fill="#fff" stroke="#111" stroke-width="0.9" stroke-linejoin="round"/><path d="M732.05 105.2 L733.59 115.09 L711.58 130.15 L710.52 123.32Z" fill="#fff" stroke="#111" stroke-width="0.9" stroke-linejoin="round"/><path d="M702.25 118.66 L710.52 123.32 L711.58 130.15 L703.63 127.53Z" fill="#fff" stroke="#111" stroke-width="0.9" stroke-linejoin="round"/><path d="M655.83 258.52 L657.92 229.11 L648.97 225.82 L646.47 255.4Z" fill="#fff" stroke="#111" stroke-width="0.9" stroke-linejoin="round"/><path d="M664.44 254.19 L655.83 258.52 L657.92 229.11 L663.86 226.12Z" fill="#fff" stroke="#111" stroke-width="0.9" stroke-linejoin="round"/><path d="M656.69 221.94 L663.86 226.12 L657.92 229.11 L648.97 225.82Z" fill="#fff" stroke="#111" stroke-width="0.9" stroke-linejoin="round"/><path d="M728.33 92.11 L707.95 114.29 L699.55 109.72 L719.78 87.14Z" fill="#fff" stroke="#111" stroke-width="0.9" stroke-linejoin="round"/><path d="M728.33 92.11 L731.12 101.13 L709.87 120.51 L707.95 114.29Z" fill="#fff" stroke="#111" stroke-width="0.9" stroke-linejoin="round"/><path d="M699.55 109.72 L707.95 114.29 L709.87 120.51 L702.05 117.82Z" fill="#fff" stroke="#111" stroke-width="0.9" stroke-linejoin="round"/><path d="M643.47 262.79 L649.4 232.05 L640.45 228.6 L634.12 259.44Z" fill="#fff" stroke="#111" stroke-width="0.9" stroke-linejoin="round"/><path d="M652.12 260.04 L643.47 262.79 L649.4 232.05 L655.36 230.16Z" fill="#fff" stroke="#111" stroke-width="0.9" stroke-linejoin="round"/><path d="M648.2 226.13 L655.36 230.16 L649.4 232.05 L640.45 228.6Z" fill="#fff" stroke="#111" stroke-width="0.9" stroke-linejoin="round"/><path d="M722.89 80.5 L704.19 106.28 L695.68 101.83 L714.16 75.71Z" fill="#fff" stroke="#111" stroke-width="0.9" stroke-linejoin="round"/><path d="M722.89 80.5 L726.87 88.46 L706.94 111.77 L704.19 106.28Z" fill="#fff" stroke="#111" stroke-width="0.9" stroke-linejoin="round"/><path d="M695.68 101.83 L704.19 106.28 L706.94 111.77 L699.25 108.97Z" fill="#fff" stroke="#111" stroke-width="0.9" stroke-linejoin="round"/><path d="M631.29 264.74 L641 233.4 L632.07 229.77 L621.98 261.13Z" fill="#fff" stroke="#111" stroke-width="0.9" stroke-linejoin="round"/><path d="M639.78 263.62 L631.29 264.74 L641 233.4 L646.85 232.63Z" fill="#fff" stroke="#111" stroke-width="0.9" stroke-linejoin="round"/><path d="M639.69 228.77 L646.85 232.63 L641 233.4 L632.07 229.77Z" fill="#fff" stroke="#111" stroke-width="0.9" stroke-linejoin="round"/><path d="M715.85 70.64 L699.34 99.47 L690.71 95.17 L706.97 66.04Z" fill="#fff" stroke="#111" stroke-width="0.9" stroke-linejoin="round"/><path d="M715.85 70.64 L720.94 77.35 L702.85 104.1 L699.34 99.47Z" fill="#fff" stroke="#111" stroke-width="0.9" stroke-linejoin="round"/><path d="M690.71 95.17 L699.34 99.47 L702.85 104.1 L695.27 101.18Z" fill="#fff" stroke="#111" stroke-width="0.9" stroke-linejoin="round"/><path d="M627.71 264.86 L619.57 264.31 L632.9 233.1 L638.53 233.48Z" fill="#fff" stroke="#111" stroke-width="0.9" stroke-linejoin="round"/><path d="M619.57 264.31 L632.9 233.1 L624.02 229.3 L610.32 260.46Z" fill="#fff" stroke="#111" stroke-width="0.9" stroke-linejoin="round"/><path d="M631.33 229.8 L638.53 233.48 L632.9 233.1 L624.02 229.3Z" fill="#fff" stroke="#111" stroke-width="0.9" stroke-linejoin="round"/><path d="M707.38 62.74 L713.45 68.06 L697.68 97.69 L693.49 94.03Z" fill="#fff" stroke="#111" stroke-width="0.9" stroke-linejoin="round"/><path d="M707.38 62.74 L693.49 94.03 L684.77 89.87 L698.36 58.36Z" fill="#fff" stroke="#111" stroke-width="0.9" stroke-linejoin="round"/><path d="M684.77 89.87 L693.49 94.03 L697.68 97.69 L690.22 94.63Z" fill="#fff" stroke="#111" stroke-width="0.9" stroke-linejoin="round"/><path d="M623.32 229.18 L630.57 232.7 L625.31 231.18 L616.49 227.21Z" fill="#fff" stroke="#111" stroke-width="0.9" stroke-linejoin="round"/><path d="M616.18 263.72 L608.55 261.53 L625.31 231.18 L630.57 232.7Z" fill="#fff" stroke="#111" stroke-width="0.9" stroke-linejoin="round"/><path d="M608.55 261.53 L625.31 231.18 L616.49 227.21 L599.39 257.43Z" fill="#fff" stroke="#111" stroke-width="0.9" stroke-linejoin="round"/><path d="M677.99 86.06 L686.79 90.06 L691.57 92.68 L684.19 89.46Z" fill="#fff" stroke="#111" stroke-width="0.9" stroke-linejoin="round"/><path d="M697.66 56.99 L704.59 60.78 L691.57 92.68 L686.79 90.06Z" fill="#fff" stroke="#111" stroke-width="0.9" stroke-linejoin="round"/><path d="M697.66 56.99 L686.79 90.06 L677.99 86.06 L688.52 52.84Z" fill="#fff" stroke="#111" stroke-width="0.9" stroke-linejoin="round"/><path d="M598.46 257.04 L605.43 260.24 L598.5 256.44 L589.46 252.11Z" fill="#fff" stroke="none"/><path d="M605.43 260.24 L598.5 256.44 L618.37 227.67 L623.15 230.29Z" fill="#fff" stroke="#111" stroke-width="0.9" stroke-linejoin="round"/><path d="M598.5 256.44 L618.37 227.67 L609.63 223.54 L589.46 252.11Z" fill="#fff" stroke="#111" stroke-width="0.9" stroke-linejoin="round"/><path d="M677.68 49.6 L686.92 53.5 L694.54 55.7 L687.59 52.45Z" fill="#fff" stroke="none"/><path d="M686.92 53.5 L694.54 55.7 L684.63 89.17 L679.37 87.65Z" fill="#fff" stroke="#111" stroke-width="0.9" stroke-linejoin="round"/><path d="M686.92 53.5 L679.37 87.65 L670.5 83.82 L677.68 49.6Z" fill="#fff" stroke="#111" stroke-width="0.9" stroke-linejoin="round"/><path d="M588.62 251.52 L595.71 254.48 L589.64 249.17 L580.73 244.61Z" fill="#fff" stroke="none"/><path d="M595.71 254.48 L589.64 249.17 L612.26 222.65 L616.45 226.32Z" fill="#fff" stroke="#111" stroke-width="0.9" stroke-linejoin="round"/><path d="M589.64 249.17 L612.26 222.65 L603.61 218.37 L580.73 244.61Z" fill="#fff" stroke="#111" stroke-width="0.9" stroke-linejoin="round"/><path d="M666.07 48.71 L675.38 52.37 L683.53 52.91 L676.66 49.42Z" fill="#fff" stroke="none"/><path d="M675.38 52.37 L671.41 86.87 L662.5 83.21 L666.07 48.71Z" fill="#fff" stroke="#111" stroke-width="0.9" stroke-linejoin="round"/><path d="M675.38 52.37 L683.53 52.91 L677.04 87.24 L671.41 86.87Z" fill="#fff" stroke="#111" stroke-width="0.9" stroke-linejoin="round"/><path d="M580.01 243.84 L587.24 246.59 L582.16 239.88 L573.4 235.12Z" fill="#fff" stroke="none"/><path d="M582.16 239.88 L607.09 216.24 L598.55 211.82 L573.4 235.12Z" fill="#fff" stroke="#111" stroke-width="0.9" stroke-linejoin="round"/><path d="M587.24 246.59 L582.16 239.88 L607.09 216.24 L610.6 220.87Z" fill="#fff" stroke="#111" stroke-width="0.9" stroke-linejoin="round"/><path d="M653.96 50.2 L663.31 53.6 L671.8 52.49 L665 48.75Z" fill="#fff" stroke="none"/><path d="M663.31 53.6 L663.09 87.72 L654.14 84.23 L653.96 50.2Z" fill="#fff" stroke="#111" stroke-width="0.9" stroke-linejoin="round"/><path d="M663.31 53.6 L671.8 52.49 L668.95 86.95 L663.09 87.72Z" fill="#fff" stroke="#111" stroke-width="0.9" stroke-linejoin="round"/><path d="M576.22 228.77 L603 208.58 L594.58 204.03 L567.64 223.83Z" fill="#fff" stroke="#111" stroke-width="0.9" stroke-linejoin="round"/><path d="M580.21 236.72 L576.22 228.77 L603 208.58 L605.75 214.07Z" fill="#fff" stroke="#111" stroke-width="0.9" stroke-linejoin="round"/><path d="M572.82 234.17 L580.21 236.72 L576.22 228.77 L567.64 223.83Z" fill="#fff" stroke="none"/><path d="M650.97 57.18 L654.58 90.19 L645.62 86.87 L641.62 54.02Z" fill="#fff" stroke="#111" stroke-width="0.9" stroke-linejoin="round"/><path d="M650.97 57.18 L659.62 54.43 L660.54 88.29 L654.58 90.19Z" fill="#fff" stroke="#111" stroke-width="0.9" stroke-linejoin="round"/><path d="M641.62 54.02 L650.97 57.18 L659.62 54.43 L652.86 50.45Z" fill="#fff" stroke="none"/><path d="M571.97 216.09 L600.07 199.83 L591.77 195.19 L563.57 211.01Z" fill="#fff" stroke="#111" stroke-width="0.9" stroke-linejoin="round"/><path d="M574.77 225.12 L571.97 216.09 L600.07 199.83 L601.99 206.06Z" fill="#fff" stroke="#111" stroke-width="0.9" stroke-linejoin="round"/><path d="M567.2 222.74 L574.77 225.12 L571.97 216.09 L563.57 211.01Z" fill="#fff" stroke="none"/><path d="M638.65 63.03 L646.08 94.23 L637.13 91.06 L629.32 60.1Z" fill="#fff" stroke="#111" stroke-width="0.9" stroke-linejoin="round"/><path d="M638.65 63.03 L647.26 58.71 L652.02 91.24 L646.08 94.23Z" fill="#fff" stroke="#111" stroke-width="0.9" stroke-linejoin="round"/><path d="M629.32 60.1 L638.65 63.03 L647.26 58.71 L640.51 54.48Z" fill="#fff" stroke="none"/><path d="M569.5 202.13 L598.36 190.2 L590.2 185.47 L561.29 196.93Z" fill="#fff" stroke="#111" stroke-width="0.9" stroke-linejoin="round"/><path d="M571.04 212.02 L569.5 202.13 L598.36 190.2 L599.42 197.03Z" fill="#fff" stroke="#111" stroke-width="0.9" stroke-linejoin="round"/><path d="M563.29 209.79 L571.04 212.02 L569.5 202.13 L561.29 196.93Z" fill="#fff" stroke="none"/><path d="M626.62 71.01 L637.77 99.73 L628.86 96.72 L617.33 68.3Z" fill="#fff" stroke="#111" stroke-width="0.9" stroke-linejoin="round"/><path d="M626.62 71.01 L635 65.21 L643.56 95.73 L637.77 99.73Z" fill="#fff" stroke="#111" stroke-width="0.9" stroke-linejoin="round"/><path d="M617.33 68.3 L626.62 71.01 L635 65.21 L628.22 60.75Z" fill="#fff" stroke="none"/><path d="M568.86 187.2 L597.92 179.9 L589.89 175.11 L560.84 181.92Z" fill="#fff" stroke="#111" stroke-width="0.9" stroke-linejoin="round"/><path d="M569.11 197.74 L568.86 187.2 L597.92 179.9 L598.1 187.17Z" fill="#fff" stroke="#111" stroke-width="0.9" stroke-linejoin="round"/><path d="M561.17 195.61 L569.11 197.74 L568.86 187.2 L560.84 181.92Z" fill="#fff" stroke="none"/><path d="M615.15 80.95 L629.86 106.59 L621 103.71 L605.93 78.43Z" fill="#fff" stroke="#111" stroke-width="0.9" stroke-linejoin="round"/><path d="M615.15 80.95 L623.11 73.8 L635.35 101.66 L629.86 106.59Z" fill="#fff" stroke="#111" stroke-width="0.9" stroke-linejoin="round"/><path d="M605.93 78.43 L615.15 80.95 L623.11 73.8 L616.28 69.13Z" fill="#fff" stroke="none"/><path d="M570.07 171.63 L598.75 169.15 L590.86 164.34 L562.24 166.3Z" fill="#fff" stroke="#111" stroke-width="0.9" stroke-linejoin="round"/><path d="M569.03 182.58 L570.07 171.63 L598.75 169.15 L598.04 176.71Z" fill="#fff" stroke="#111" stroke-width="0.9" stroke-linejoin="round"/><path d="M560.89 180.53 L569.03 182.58 L570.07 171.63 L562.24 166.3Z" fill="#fff" stroke="none"/><path d="M604.48 92.63 L622.5 114.65 L613.71 111.88 L595.37 90.27Z" fill="#fff" stroke="#111" stroke-width="0.9" stroke-linejoin="round"/><path d="M604.48 92.63 L611.85 84.29 L627.58 108.89 L622.5 114.65Z" fill="#fff" stroke="#111" stroke-width="0.9" stroke-linejoin="round"/><path d="M595.37 90.27 L604.48 92.63 L611.85 84.29 L604.94 79.43Z" fill="#fff" stroke="none"/><path d="M573.09 155.77 L600.84 158.21 L593.08 153.39 L565.46 150.43Z" fill="#fff" stroke="#111" stroke-width="0.9" stroke-linejoin="round"/><path d="M570.79 166.88 L573.09 155.77 L600.84 158.21 L599.25 165.88Z" fill="#fff" stroke="#111" stroke-width="0.9" stroke-linejoin="round"/><path d="M562.46 164.88 L570.79 166.88 L573.09 155.77 L565.46 150.43Z" fill="#fff" stroke="none"/><path d="M594.87 105.78 L615.87 123.72 L607.16 121.05 L585.88 103.56Z" fill="#fff" stroke="#111" stroke-width="0.9" stroke-linejoin="round"/><path d="M594.87 105.78 L601.48 96.43 L620.43 117.27 L615.87 123.72Z" fill="#fff" stroke="#111" stroke-width="0.9" stroke-linejoin="round"/><path d="M585.88 103.56 L594.87 105.78 L601.48 96.43 L594.46 91.41Z" fill="#fff" stroke="none"/><path d="M577.87 139.97 L604.14 147.31 L596.5 142.51 L570.42 134.66Z" fill="#fff" stroke="#111" stroke-width="0.9" stroke-linejoin="round"/><path d="M574.35 151 L577.87 139.97 L604.14 147.31 L601.71 154.92Z" fill="#fff" stroke="#111" stroke-width="0.9" stroke-linejoin="round"/><path d="M565.84 149 L574.35 151 L577.87 139.97 L570.42 134.66Z" fill="#fff" stroke="none"/><path d="M586.53 120.11 L610.11 133.6 L601.5 131.01 L577.68 117.99Z" fill="#fff" stroke="#111" stroke-width="0.9" stroke-linejoin="round"/><path d="M586.53 120.11 L592.23 109.97 L614.04 126.61 L610.11 133.6Z" fill="#fff" stroke="#111" stroke-width="0.9" stroke-linejoin="round"/><path d="M577.68 117.99 L586.53 120.11 L592.23 109.97 L585.08 104.82Z" fill="#fff" stroke="none"/><path d="M579.64 135.29 L605.35 144.08 L596.86 141.54 L570.95 133.25Z" fill="#fff" stroke="#111" stroke-width="0.9" stroke-linejoin="round"/><path d="M584.3 124.59 L608.57 136.7 L601.04 131.94 L577.01 119.34Z" fill="#fff" stroke="#111" stroke-width="0.9" stroke-linejoin="round"/><path d="M579.64 135.29 L584.3 124.59 L608.57 136.7 L605.35 144.08Z" fill="#fff" stroke="#111" stroke-width="0.9" stroke-linejoin="round"/><path d="M570.95 133.25 L579.64 135.29 L584.3 124.59 L577.01 119.34Z" fill="#fff" stroke="none"/></g><path d="M587.25 246.59 L585.76 244.83 L584.34 242.99 L582.97 241.08 L581.65 239.1 L580.4 237.06 L579.21 234.94 L578.07 232.77 L577 230.53 L575.99 228.23 L575.05 225.87 L574.17 223.45 L573.35 220.98 L572.6 218.46 L571.92 215.89 L571.31 213.27 L570.76 210.6 L570.28 207.89 L569.87 205.14 L569.52 202.34 L569.25 199.52 L569.05 196.65 L568.91 193.76 L568.85 190.83 L568.85 187.88 L568.92 184.91 L569.07 181.91 L569.28 178.89 L569.56 175.85 L569.91 172.81 L570.33 169.74 L570.82 166.67 L571.38 163.6 L572 160.51 L572.69 157.43 L573.45 154.35 L574.28 151.27 L575.16 148.2 L576.12 145.13 L577.13 142.08 L578.21 139.04 L579.35 136.02 L580.55 133.01 L581.82 130.03 L583.14 127.08 L584.51 124.14 L585.95 121.24 L587.44 118.37 L588.98 115.54 L590.58 112.73 L592.22 109.97 L593.92 107.25 L595.67 104.57 L597.46 101.94 L599.3 99.36 L601.18 96.82 L603.11 94.34 L605.07 91.91 L607.08 89.54 L609.12 87.23 L611.2 84.97 L613.31 82.78 L615.45 80.66 L617.63 78.59 L619.83 76.6 L622.06 74.67 L624.32 72.82 L626.59 71.04 L628.89 69.33 L631.21 67.69 L633.55 66.14 L635.9 64.66 L638.26 63.26 L640.63 61.94 L643.02 60.7 L645.41 59.54 L647.8 58.47 L650.2 57.48 L652.6 56.58 L655 55.76 L657.4 55.03 L659.79 54.39 L662.18 53.83 L664.55 53.37 L666.92 52.99 L669.27 52.7 L671.61 52.5 L673.93 52.39 L676.23 52.37 L678.51 52.44" fill="none" stroke="#111" stroke-width="0.7" stroke-linejoin="round" stroke-linecap="round" /><path d="M572.1 457.9 L629 434.9 L618.1 430.7 L658.1 428.9 L655.2 447.3 L645.4 442.6 L591.7 466Z" fill="none" stroke="#111" stroke-width="1.8" stroke-linejoin="miter"/><text x="518.5" y="184.2" dy="-0.7" text-anchor="middle" font-family="'Liberation Sans',Arial,sans-serif" font-weight="bold" font-size="12" fill="#111">1</text><path d="M525.4 179.5 L556 179.5" stroke="#111" stroke-width="1.4" fill="none" /><text x="463.5" y="185" dy="-0.7" text-anchor="middle" font-family="'Liberation Sans',Arial,sans-serif" font-weight="bold" font-size="12" fill="#111">2</text><path d="M463.5 188 L463.5 211.5" stroke="#111" stroke-width="1.4" fill="none" /><text x="421.3" y="203" dy="-0.7" text-anchor="middle" font-family="'Liberation Sans',Arial,sans-serif" font-weight="bold" font-size="12" fill="#111">3</text><path d="M421.3 206 L421.3 233" stroke="#111" stroke-width="1.4" fill="none" /><text x="361.9" y="228" dy="-0.7" text-anchor="middle" font-family="'Liberation Sans',Arial,sans-serif" font-weight="bold" font-size="12" fill="#111">8</text><path d="M361.9 231 L361.9 255" stroke="#111" stroke-width="1.4" fill="none" /><text x="311.5" y="250" dy="-0.7" text-anchor="middle" font-family="'Liberation Sans',Arial,sans-serif" font-weight="bold" font-size="12" fill="#111">9</text><path d="M311.5 253 L311.5 277" stroke="#111" stroke-width="1.4" fill="none" /><text x="260.5" y="266" dy="-0.7" text-anchor="middle" font-family="'Liberation Sans',Arial,sans-serif" font-weight="bold" font-size="12" fill="#111">10</text><path d="M260.5 269 L260.5 291" stroke="#111" stroke-width="1.4" fill="none" /><text x="719.7" y="357" dy="-0.7" text-anchor="middle" font-family="'Liberation Sans',Arial,sans-serif" font-weight="bold" font-size="12" fill="#111">1</text><path d="M720.2 318 L720.2 344" stroke="#111" stroke-width="1.4" fill="none" /><text x="534.8" y="436" dy="-0.7" text-anchor="middle" font-family="'Liberation Sans',Arial,sans-serif" font-weight="bold" font-size="12" fill="#111">6</text><path d="M534.8 394 L534.8 423.5" stroke="#111" stroke-width="1.4" fill="none" /><path d="M477.3 425.3 L477.3 446.5" stroke="#111" stroke-width="1.4" fill="none" /><text x="432.2" y="480" dy="-0.7" text-anchor="middle" font-family="'Liberation Sans',Arial,sans-serif" font-weight="bold" font-size="12" fill="#111">4</text><path d="M431.5 434.6 L431.5 466.6" stroke="#111" stroke-width="1.4" fill="none" /><text x="392.4" y="497" dy="-0.7" text-anchor="middle" font-family="'Liberation Sans',Arial,sans-serif" font-weight="bold" font-size="12" fill="#111">5</text><path d="M390.5 451.2 L390.5 482" stroke="#111" stroke-width="1.4" fill="none" /><text x="351.5" y="514" dy="-0.7" text-anchor="middle" font-family="'Liberation Sans',Arial,sans-serif" font-weight="bold" font-size="12" fill="#111">4</text><path d="M351.6 469 L351.6 502" stroke="#111" stroke-width="1.4" fill="none" /><path d="M297.7 503 L297.7 522.8" stroke="#111" stroke-width="1.4" fill="none" /></g>
<g id="watermark"><g opacity="0.2"><use href="#logo"/></g><g opacity="0.2" transform="translate(473.95 257.79) scale(0.49 0.49)"><use href="#logo"/></g></g>
<g id="highlights" opacity="0.999"><rect x="464.5" y="449" width="25.5" height="18" fill="#f6ec13"/><text x="477.3" y="463.5" dy="-0.7" text-anchor="middle" font-family="'Liberation Sans',Arial,sans-serif" font-weight="bold" font-size="12" fill="#111">7</text><rect x="284.6" y="524.8" width="22.7" height="16.2" fill="#f6ec13"/><text x="297" y="535.5" dy="-0.7" text-anchor="middle" font-family="'Liberation Sans',Arial,sans-serif" font-weight="bold" font-size="12" fill="#111">7</text></g>
</svg></body></html>
